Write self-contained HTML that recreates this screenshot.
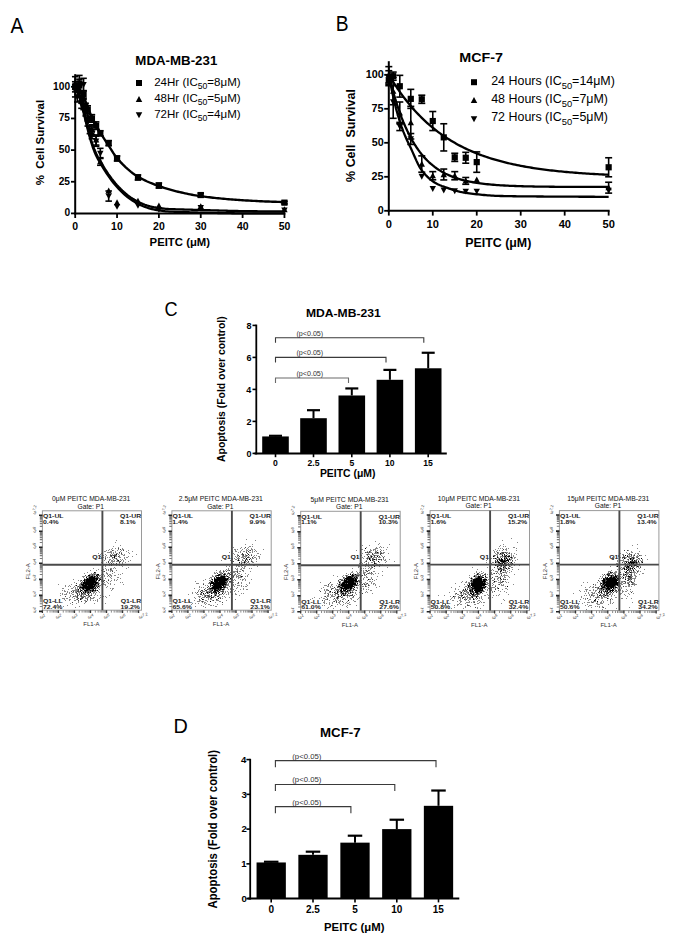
<!DOCTYPE html>
<html><head><meta charset="utf-8"><style>
html,body{margin:0;padding:0;background:#fff;}
svg{display:block;font-family:"Liberation Sans", sans-serif;}
text{white-space:pre;}
</style></head><body>
<svg width="685" height="941" viewBox="0 0 685 941">
<defs><filter id="fb" x="-5%" y="-5%" width="110%" height="110%"><feGaussianBlur stdDeviation="0.45"/></filter></defs>
<rect width="685" height="941" fill="#fff"/>
<text transform="translate(10.40,32.60) scale(0.8815,1)" font-size="22.17" font-weight="normal" fill="#000" >A</text>
<line x1="75.20" y1="74.14" x2="75.20" y2="214.40" stroke="#000" stroke-width="2" />
<line x1="74.20" y1="213.40" x2="285.45" y2="213.40" stroke="#000" stroke-width="2" />
<line x1="71.00" y1="213.40" x2="75.20" y2="213.40" stroke="#000" stroke-width="1.8" />
<text transform="translate(64.45,216.40) scale(1.0000,1)" font-size="10.20" font-weight="bold" fill="#000">0</text>
<line x1="71.00" y1="181.75" x2="75.20" y2="181.75" stroke="#000" stroke-width="1.8" />
<text transform="translate(58.63,184.75) scale(1.0000,1)" font-size="10.20" font-weight="bold" fill="#000">25</text>
<line x1="71.00" y1="150.10" x2="75.20" y2="150.10" stroke="#000" stroke-width="1.8" />
<text transform="translate(58.79,153.10) scale(1.0000,1)" font-size="10.20" font-weight="bold" fill="#000">50</text>
<line x1="71.00" y1="118.45" x2="75.20" y2="118.45" stroke="#000" stroke-width="1.8" />
<text transform="translate(58.63,121.45) scale(1.0000,1)" font-size="10.20" font-weight="bold" fill="#000">75</text>
<line x1="71.00" y1="86.80" x2="75.20" y2="86.80" stroke="#000" stroke-width="1.8" />
<text transform="translate(53.12,89.80) scale(1.0000,1)" font-size="10.20" font-weight="bold" fill="#000">100</text>
<line x1="75.20" y1="213.40" x2="75.20" y2="218.00" stroke="#000" stroke-width="1.8" />
<text transform="translate(72.29,229.60) scale(1.0500,1)" font-size="10.00" font-weight="bold" fill="#000">0</text>
<line x1="117.05" y1="213.40" x2="117.05" y2="218.00" stroke="#000" stroke-width="1.8" />
<text transform="translate(111.09,229.60) scale(1.0500,1)" font-size="10.00" font-weight="bold" fill="#000">10</text>
<line x1="158.90" y1="213.40" x2="158.90" y2="218.00" stroke="#000" stroke-width="1.8" />
<text transform="translate(153.10,229.60) scale(1.0500,1)" font-size="10.00" font-weight="bold" fill="#000">20</text>
<line x1="200.75" y1="213.40" x2="200.75" y2="218.00" stroke="#000" stroke-width="1.8" />
<text transform="translate(195.00,229.60) scale(1.0500,1)" font-size="10.00" font-weight="bold" fill="#000">30</text>
<line x1="242.60" y1="213.40" x2="242.60" y2="218.00" stroke="#000" stroke-width="1.8" />
<text transform="translate(236.90,229.60) scale(1.0500,1)" font-size="10.00" font-weight="bold" fill="#000">40</text>
<line x1="284.45" y1="213.40" x2="284.45" y2="218.00" stroke="#000" stroke-width="1.8" />
<text transform="translate(278.68,229.60) scale(1.0500,1)" font-size="10.00" font-weight="bold" fill="#000">50</text>
<text transform="translate(149.56,246.10) scale(1.1040,1)" font-size="10.29" font-weight="bold" fill="#000" >PEITC (μM)</text>
<text transform="translate(44.30,185.29) rotate(-90) scale(1.0538,1)" font-size="10.90" font-weight="bold" fill="#000">%  Cell Survival</text>
<text transform="translate(135.34,64.80) scale(1.0925,1)" font-size="12.17" font-weight="bold" fill="#000" >MDA-MB-231</text>
<rect x="136.00" y="80.00" width="6.00" height="6.00" fill="#000" />
<polygon points="139.00,96.01 142.25,101.99 135.75,101.99"/>
<polygon points="139.00,118.29 142.25,112.31 135.75,112.31"/>
<text transform="translate(154.20,85.80) scale(1.030,1)" font-size="11.2">24Hr (IC<tspan font-size="8.4" dy="3.14">50</tspan><tspan dy="-3.14">=8μM)</tspan></text>
<text transform="translate(154.20,101.60) scale(1.030,1)" font-size="11.2">48Hr (IC<tspan font-size="8.4" dy="3.14">50</tspan><tspan dy="-3.14">=5μM)</tspan></text>
<text transform="translate(154.20,117.60) scale(1.030,1)" font-size="11.2">72Hr (IC<tspan font-size="8.4" dy="3.14">50</tspan><tspan dy="-3.14">=4μM)</tspan></text>
<polyline points="75.20,86.80 76.94,88.36 78.69,90.34 80.43,92.68 82.17,95.30 83.92,98.16 85.66,101.77 87.41,106.06 89.15,110.57 90.89,114.88 92.64,118.60 94.38,122.02 96.12,125.27 97.87,128.39 99.61,131.40 101.36,134.33 103.10,137.14 104.84,139.84 106.59,142.49 108.33,145.14 110.08,147.85 111.82,150.66 113.56,153.41 115.31,155.98 117.05,158.20 118.79,160.18 120.54,162.08 122.28,163.90 124.03,165.65 125.77,167.32 127.51,168.91 129.26,170.42 131.00,171.84 132.74,173.18 134.49,174.44 136.23,175.61 137.97,176.69 139.72,177.69 141.46,178.65 143.21,179.55 144.95,180.41 146.69,181.23 148.44,182.00 150.18,182.74 151.93,183.45 153.67,184.14 155.41,184.80 157.16,185.43 158.90,186.05 160.64,186.66 162.39,187.25 164.13,187.81 165.88,188.36 167.62,188.89 169.36,189.41 171.11,189.90 172.85,190.38 174.59,190.84 176.34,191.29 178.08,191.72 179.82,192.13 181.57,192.53 183.31,192.93 185.06,193.32 186.80,193.69 188.54,194.06 190.29,194.41 192.03,194.75 193.77,195.08 195.52,195.38 197.26,195.67 199.01,195.94 200.75,196.18 202.49,196.41 204.24,196.64 205.98,196.86 207.73,197.07 209.47,197.28 211.21,197.49 212.96,197.69 214.70,197.88 216.44,198.07 218.19,198.25 219.93,198.43 221.68,198.60 223.42,198.77 225.16,198.93 226.91,199.08 228.65,199.23 230.39,199.38 232.14,199.52 233.88,199.65 235.62,199.78 237.37,199.90 239.11,200.02 240.86,200.13 242.60,200.23 244.34,200.34 246.09,200.44 247.83,200.54 249.57,200.64 251.32,200.73 253.06,200.83 254.81,200.92 256.55,201.01 258.29,201.10 260.04,201.19 261.78,201.27 263.52,201.35 265.27,201.43 267.01,201.50 268.76,201.57 270.50,201.64 272.24,201.70 273.99,201.76 275.73,201.81 277.47,201.86 279.22,201.90 280.96,201.94 282.71,201.98 284.45,202.01" fill="none" stroke="#000" stroke-width="2.4" stroke-linejoin="round"/>
<polyline points="75.20,86.45 76.94,89.54 78.69,93.92 80.43,99.33 82.17,105.51 83.92,112.23 85.66,119.21 87.41,126.21 89.15,132.98 90.89,139.27 92.64,144.82 94.38,149.53 96.12,153.54 97.87,157.01 99.61,160.13 101.36,163.05 103.10,165.93 104.84,168.75 106.59,171.46 108.33,174.05 110.08,176.51 111.82,178.85 113.56,181.08 115.31,183.19 117.05,185.19 118.79,187.08 120.54,188.87 122.28,190.56 124.03,192.15 125.77,193.65 127.51,195.05 129.26,196.37 131.00,197.60 132.74,198.75 134.49,199.82 136.23,200.81 137.97,201.73 139.72,202.57 141.46,203.35 143.21,204.07 144.95,204.72 146.69,205.31 148.44,205.85 150.18,206.34 151.93,206.77 153.67,207.16 155.41,207.50 157.16,207.81 158.90,208.07 160.64,208.30 162.39,208.50 164.13,208.67 165.88,208.82 167.62,208.94 169.36,209.04 171.11,209.13 172.85,209.20 174.59,209.26 176.34,209.31 178.08,209.36 179.82,209.40 181.57,209.45 183.31,209.50 185.06,209.54 186.80,209.59 188.54,209.64 190.29,209.69 192.03,209.74 193.77,209.79 195.52,209.85 197.26,209.90 199.01,209.95 200.75,210.00 202.49,210.05 204.24,210.11 205.98,210.16 207.73,210.21 209.47,210.26 211.21,210.32 212.96,210.37 214.70,210.42 216.44,210.47 218.19,210.52 219.93,210.57 221.68,210.61 223.42,210.66 225.16,210.71 226.91,210.75 228.65,210.80 230.39,210.84 232.14,210.88 233.88,210.92 235.62,210.96 237.37,210.99 239.11,211.03 240.86,211.06 242.60,211.09 244.34,211.12 246.09,211.15 247.83,211.18 249.57,211.20 251.32,211.22 253.06,211.24 254.81,211.25 256.55,211.27 258.29,211.28 260.04,211.29 261.78,211.29 263.52,211.30 265.27,211.30 267.01,211.30 268.76,211.30 270.50,211.30 272.24,211.30 273.99,211.30 275.73,211.30 277.47,211.30 279.22,211.30 280.96,211.30 282.71,211.30 284.45,211.30" fill="none" stroke="#000" stroke-width="2.3" stroke-linejoin="round"/>
<polyline points="75.20,86.43 76.94,90.12 78.69,94.96 80.43,100.72 82.17,107.14 83.92,114.02 85.66,121.09 87.41,128.14 89.15,134.91 90.89,141.19 92.64,146.73 94.38,151.43 96.12,155.44 97.87,158.92 99.61,162.03 101.36,164.95 103.10,167.81 104.84,170.62 106.59,173.31 108.33,175.89 110.08,178.35 111.82,180.69 113.56,182.92 115.31,185.04 117.05,187.05 118.79,188.96 120.54,190.76 122.28,192.47 124.03,194.07 125.77,195.59 127.51,197.01 129.26,198.35 131.00,199.60 132.74,200.77 134.49,201.86 136.23,202.87 137.97,203.81 139.72,204.68 141.46,205.48 143.21,206.22 144.95,206.90 146.69,207.52 148.44,208.08 150.18,208.59 151.93,209.04 153.67,209.46 155.41,209.82 157.16,210.15 158.90,210.44 160.64,210.69 162.39,210.91 164.13,211.10 165.88,211.27 167.62,211.41 169.36,211.53 171.11,211.63 172.85,211.72 174.59,211.79 176.34,211.86 178.08,211.91 179.82,211.97 181.57,212.02 183.31,212.08 185.06,212.13 186.80,212.19 188.54,212.24 190.29,212.29 192.03,212.34 193.77,212.39 195.52,212.44 197.26,212.49 199.01,212.54 200.75,212.59 202.49,212.63 204.24,212.68 205.98,212.72 207.73,212.76 209.47,212.81 211.21,212.85 212.96,212.89 214.70,212.93 216.44,212.96 218.19,213.00 219.93,213.04 221.68,213.07 223.42,213.10 225.16,213.13 226.91,213.16 228.65,213.19 230.39,213.22 232.14,213.24 233.88,213.27 235.62,213.29 237.37,213.31 239.11,213.33 240.86,213.35 242.60,213.36 244.34,213.37 246.09,213.39 247.83,213.40 249.57,213.40 251.32,213.41 253.06,213.41 254.81,213.42 256.55,213.42 258.29,213.42 260.04,213.42 261.78,213.42 263.52,213.42 265.27,213.42 267.01,213.42 268.76,213.42 270.50,213.42 272.24,213.42 273.99,213.42 275.73,213.42 277.47,213.42 279.22,213.42 280.96,213.42 282.71,213.42 284.45,213.42" fill="none" stroke="#000" stroke-width="2.3" stroke-linejoin="round"/>
<line x1="75.20" y1="86.80" x2="75.20" y2="81.74" stroke="#000" stroke-width="1.6" />
<line x1="71.95" y1="81.74" x2="78.45" y2="81.74" stroke="#000" stroke-width="1.6" />
<line x1="75.20" y1="86.80" x2="75.20" y2="91.86" stroke="#000" stroke-width="1.6" />
<line x1="71.95" y1="91.86" x2="78.45" y2="91.86" stroke="#000" stroke-width="1.6" />
<rect x="72.10" y="83.70" width="6.20" height="6.20" fill="#000" />
<line x1="79.39" y1="85.53" x2="79.39" y2="79.20" stroke="#000" stroke-width="1.6" />
<line x1="76.14" y1="79.20" x2="82.64" y2="79.20" stroke="#000" stroke-width="1.6" />
<line x1="79.39" y1="85.53" x2="79.39" y2="91.86" stroke="#000" stroke-width="1.6" />
<line x1="76.14" y1="91.86" x2="82.64" y2="91.86" stroke="#000" stroke-width="1.6" />
<rect x="76.29" y="82.43" width="6.20" height="6.20" fill="#000" />
<line x1="83.57" y1="94.40" x2="83.57" y2="90.60" stroke="#000" stroke-width="1.6" />
<line x1="80.32" y1="90.60" x2="86.82" y2="90.60" stroke="#000" stroke-width="1.6" />
<line x1="83.57" y1="94.40" x2="83.57" y2="98.19" stroke="#000" stroke-width="1.6" />
<line x1="80.32" y1="98.19" x2="86.82" y2="98.19" stroke="#000" stroke-width="1.6" />
<rect x="80.47" y="91.30" width="6.20" height="6.20" fill="#000" />
<line x1="87.75" y1="109.59" x2="87.75" y2="105.79" stroke="#000" stroke-width="1.6" />
<line x1="84.50" y1="105.79" x2="91.00" y2="105.79" stroke="#000" stroke-width="1.6" />
<line x1="87.75" y1="109.59" x2="87.75" y2="113.39" stroke="#000" stroke-width="1.6" />
<line x1="84.50" y1="113.39" x2="91.00" y2="113.39" stroke="#000" stroke-width="1.6" />
<rect x="84.66" y="106.49" width="6.20" height="6.20" fill="#000" />
<line x1="91.94" y1="118.45" x2="91.94" y2="114.65" stroke="#000" stroke-width="1.6" />
<line x1="88.69" y1="114.65" x2="95.19" y2="114.65" stroke="#000" stroke-width="1.6" />
<line x1="91.94" y1="118.45" x2="91.94" y2="122.25" stroke="#000" stroke-width="1.6" />
<line x1="88.69" y1="122.25" x2="95.19" y2="122.25" stroke="#000" stroke-width="1.6" />
<rect x="88.84" y="115.35" width="6.20" height="6.20" fill="#000" />
<line x1="96.12" y1="125.67" x2="96.12" y2="121.87" stroke="#000" stroke-width="1.6" />
<line x1="92.88" y1="121.87" x2="99.38" y2="121.87" stroke="#000" stroke-width="1.6" />
<line x1="96.12" y1="125.67" x2="96.12" y2="129.46" stroke="#000" stroke-width="1.6" />
<line x1="92.88" y1="129.46" x2="99.38" y2="129.46" stroke="#000" stroke-width="1.6" />
<rect x="93.03" y="122.57" width="6.20" height="6.20" fill="#000" />
<line x1="100.31" y1="133.26" x2="100.31" y2="130.73" stroke="#000" stroke-width="1.6" />
<line x1="97.06" y1="130.73" x2="103.56" y2="130.73" stroke="#000" stroke-width="1.6" />
<line x1="100.31" y1="133.26" x2="100.31" y2="135.79" stroke="#000" stroke-width="1.6" />
<line x1="97.06" y1="135.79" x2="103.56" y2="135.79" stroke="#000" stroke-width="1.6" />
<rect x="97.21" y="130.16" width="6.20" height="6.20" fill="#000" />
<line x1="108.68" y1="143.14" x2="108.68" y2="140.60" stroke="#000" stroke-width="1.6" />
<line x1="105.43" y1="140.60" x2="111.93" y2="140.60" stroke="#000" stroke-width="1.6" />
<line x1="108.68" y1="143.14" x2="108.68" y2="145.67" stroke="#000" stroke-width="1.6" />
<line x1="105.43" y1="145.67" x2="111.93" y2="145.67" stroke="#000" stroke-width="1.6" />
<rect x="105.58" y="140.04" width="6.20" height="6.20" fill="#000" />
<line x1="117.05" y1="158.46" x2="117.05" y2="155.92" stroke="#000" stroke-width="1.6" />
<line x1="113.80" y1="155.92" x2="120.30" y2="155.92" stroke="#000" stroke-width="1.6" />
<line x1="117.05" y1="158.46" x2="117.05" y2="160.99" stroke="#000" stroke-width="1.6" />
<line x1="113.80" y1="160.99" x2="120.30" y2="160.99" stroke="#000" stroke-width="1.6" />
<rect x="113.95" y="155.36" width="6.20" height="6.20" fill="#000" />
<line x1="137.97" y1="177.45" x2="137.97" y2="174.91" stroke="#000" stroke-width="1.6" />
<line x1="134.72" y1="174.91" x2="141.22" y2="174.91" stroke="#000" stroke-width="1.6" />
<line x1="137.97" y1="177.45" x2="137.97" y2="179.98" stroke="#000" stroke-width="1.6" />
<line x1="134.72" y1="179.98" x2="141.22" y2="179.98" stroke="#000" stroke-width="1.6" />
<rect x="134.88" y="174.35" width="6.20" height="6.20" fill="#000" />
<line x1="158.90" y1="185.55" x2="158.90" y2="183.02" stroke="#000" stroke-width="1.6" />
<line x1="155.65" y1="183.02" x2="162.15" y2="183.02" stroke="#000" stroke-width="1.6" />
<line x1="158.90" y1="185.55" x2="158.90" y2="188.08" stroke="#000" stroke-width="1.6" />
<line x1="155.65" y1="188.08" x2="162.15" y2="188.08" stroke="#000" stroke-width="1.6" />
<rect x="155.80" y="182.45" width="6.20" height="6.20" fill="#000" />
<line x1="200.75" y1="195.04" x2="200.75" y2="193.14" stroke="#000" stroke-width="1.6" />
<line x1="197.50" y1="193.14" x2="204.00" y2="193.14" stroke="#000" stroke-width="1.6" />
<line x1="200.75" y1="195.04" x2="200.75" y2="196.94" stroke="#000" stroke-width="1.6" />
<line x1="197.50" y1="196.94" x2="204.00" y2="196.94" stroke="#000" stroke-width="1.6" />
<rect x="197.65" y="191.94" width="6.20" height="6.20" fill="#000" />
<line x1="284.45" y1="202.64" x2="284.45" y2="201.37" stroke="#000" stroke-width="1.6" />
<line x1="281.20" y1="201.37" x2="287.70" y2="201.37" stroke="#000" stroke-width="1.6" />
<line x1="284.45" y1="202.64" x2="284.45" y2="203.91" stroke="#000" stroke-width="1.6" />
<line x1="281.20" y1="203.91" x2="287.70" y2="203.91" stroke="#000" stroke-width="1.6" />
<rect x="281.35" y="199.54" width="6.20" height="6.20" fill="#000" />
<line x1="75.20" y1="83.00" x2="75.20" y2="76.67" stroke="#000" stroke-width="1.6" />
<line x1="71.95" y1="76.67" x2="78.45" y2="76.67" stroke="#000" stroke-width="1.6" />
<line x1="75.20" y1="83.00" x2="75.20" y2="89.33" stroke="#000" stroke-width="1.6" />
<line x1="71.95" y1="89.33" x2="78.45" y2="89.33" stroke="#000" stroke-width="1.6" />
<polygon points="75.20,79.76 78.40,85.65 72.00,85.65"/>
<line x1="79.39" y1="89.33" x2="79.39" y2="81.74" stroke="#000" stroke-width="1.6" />
<line x1="76.14" y1="81.74" x2="82.64" y2="81.74" stroke="#000" stroke-width="1.6" />
<line x1="79.39" y1="89.33" x2="79.39" y2="96.93" stroke="#000" stroke-width="1.6" />
<line x1="76.14" y1="96.93" x2="82.64" y2="96.93" stroke="#000" stroke-width="1.6" />
<polygon points="79.39,86.09 82.59,91.98 76.19,91.98"/>
<line x1="81.48" y1="99.46" x2="81.48" y2="95.66" stroke="#000" stroke-width="1.6" />
<line x1="78.23" y1="95.66" x2="84.73" y2="95.66" stroke="#000" stroke-width="1.6" />
<line x1="81.48" y1="99.46" x2="81.48" y2="103.26" stroke="#000" stroke-width="1.6" />
<line x1="78.23" y1="103.26" x2="84.73" y2="103.26" stroke="#000" stroke-width="1.6" />
<polygon points="81.48,96.22 84.68,102.11 78.28,102.11"/>
<line x1="83.57" y1="104.52" x2="83.57" y2="99.46" stroke="#000" stroke-width="1.6" />
<line x1="80.32" y1="99.46" x2="86.82" y2="99.46" stroke="#000" stroke-width="1.6" />
<line x1="83.57" y1="104.52" x2="83.57" y2="109.59" stroke="#000" stroke-width="1.6" />
<line x1="80.32" y1="109.59" x2="86.82" y2="109.59" stroke="#000" stroke-width="1.6" />
<polygon points="83.57,101.29 86.77,107.17 80.37,107.17"/>
<line x1="85.66" y1="112.12" x2="85.66" y2="108.32" stroke="#000" stroke-width="1.6" />
<line x1="82.41" y1="108.32" x2="88.91" y2="108.32" stroke="#000" stroke-width="1.6" />
<line x1="85.66" y1="112.12" x2="85.66" y2="115.92" stroke="#000" stroke-width="1.6" />
<line x1="82.41" y1="115.92" x2="88.91" y2="115.92" stroke="#000" stroke-width="1.6" />
<polygon points="85.66,108.88 88.86,114.77 82.46,114.77"/>
<line x1="87.75" y1="117.18" x2="87.75" y2="113.39" stroke="#000" stroke-width="1.6" />
<line x1="84.50" y1="113.39" x2="91.00" y2="113.39" stroke="#000" stroke-width="1.6" />
<line x1="87.75" y1="117.18" x2="87.75" y2="120.98" stroke="#000" stroke-width="1.6" />
<line x1="84.50" y1="120.98" x2="91.00" y2="120.98" stroke="#000" stroke-width="1.6" />
<polygon points="87.75,113.95 90.95,119.83 84.55,119.83"/>
<line x1="91.94" y1="129.84" x2="91.94" y2="124.78" stroke="#000" stroke-width="1.6" />
<line x1="88.69" y1="124.78" x2="95.19" y2="124.78" stroke="#000" stroke-width="1.6" />
<line x1="91.94" y1="129.84" x2="91.94" y2="134.91" stroke="#000" stroke-width="1.6" />
<line x1="88.69" y1="134.91" x2="95.19" y2="134.91" stroke="#000" stroke-width="1.6" />
<polygon points="91.94,126.61 95.14,132.49 88.74,132.49"/>
<line x1="96.12" y1="139.97" x2="96.12" y2="134.91" stroke="#000" stroke-width="1.6" />
<line x1="92.88" y1="134.91" x2="99.38" y2="134.91" stroke="#000" stroke-width="1.6" />
<line x1="96.12" y1="139.97" x2="96.12" y2="145.04" stroke="#000" stroke-width="1.6" />
<line x1="92.88" y1="145.04" x2="99.38" y2="145.04" stroke="#000" stroke-width="1.6" />
<polygon points="96.12,136.73 99.33,142.62 92.92,142.62"/>
<line x1="100.31" y1="161.49" x2="100.31" y2="157.70" stroke="#000" stroke-width="1.6" />
<line x1="97.06" y1="157.70" x2="103.56" y2="157.70" stroke="#000" stroke-width="1.6" />
<line x1="100.31" y1="161.49" x2="100.31" y2="165.29" stroke="#000" stroke-width="1.6" />
<line x1="97.06" y1="165.29" x2="103.56" y2="165.29" stroke="#000" stroke-width="1.6" />
<polygon points="100.31,158.26 103.51,164.14 97.11,164.14"/>
<polygon points="108.68,187.50 111.88,193.39 105.48,193.39"/>
<polygon points="117.05,199.27 120.25,205.16 113.85,205.16"/>
<polygon points="137.97,197.75 141.17,203.64 134.78,203.64"/>
<polygon points="158.90,202.57 162.10,208.45 155.70,208.45"/>
<polygon points="200.75,203.20 203.95,209.09 197.55,209.09"/>
<polygon points="284.45,206.36 287.65,212.25 281.25,212.25"/>
<line x1="75.20" y1="90.60" x2="75.20" y2="84.27" stroke="#000" stroke-width="1.6" />
<line x1="71.95" y1="84.27" x2="78.45" y2="84.27" stroke="#000" stroke-width="1.6" />
<line x1="75.20" y1="90.60" x2="75.20" y2="96.93" stroke="#000" stroke-width="1.6" />
<line x1="71.95" y1="96.93" x2="78.45" y2="96.93" stroke="#000" stroke-width="1.6" />
<polygon points="75.20,93.84 78.40,87.95 72.00,87.95"/>
<line x1="77.29" y1="96.93" x2="77.29" y2="91.86" stroke="#000" stroke-width="1.6" />
<line x1="74.04" y1="91.86" x2="80.54" y2="91.86" stroke="#000" stroke-width="1.6" />
<line x1="77.29" y1="96.93" x2="77.29" y2="101.99" stroke="#000" stroke-width="1.6" />
<line x1="74.04" y1="101.99" x2="80.54" y2="101.99" stroke="#000" stroke-width="1.6" />
<polygon points="77.29,100.17 80.49,94.28 74.09,94.28"/>
<line x1="79.39" y1="83.00" x2="79.39" y2="75.41" stroke="#000" stroke-width="1.6" />
<line x1="76.14" y1="75.41" x2="82.64" y2="75.41" stroke="#000" stroke-width="1.6" />
<line x1="79.39" y1="83.00" x2="79.39" y2="90.60" stroke="#000" stroke-width="1.6" />
<line x1="76.14" y1="90.60" x2="82.64" y2="90.60" stroke="#000" stroke-width="1.6" />
<polygon points="79.39,86.24 82.59,80.35 76.19,80.35"/>
<line x1="81.48" y1="104.52" x2="81.48" y2="100.73" stroke="#000" stroke-width="1.6" />
<line x1="78.23" y1="100.73" x2="84.73" y2="100.73" stroke="#000" stroke-width="1.6" />
<line x1="81.48" y1="104.52" x2="81.48" y2="108.32" stroke="#000" stroke-width="1.6" />
<line x1="78.23" y1="108.32" x2="84.73" y2="108.32" stroke="#000" stroke-width="1.6" />
<polygon points="81.48,107.76 84.68,101.87 78.28,101.87"/>
<line x1="83.57" y1="84.65" x2="83.57" y2="78.32" stroke="#000" stroke-width="1.6" />
<line x1="80.32" y1="78.32" x2="86.82" y2="78.32" stroke="#000" stroke-width="1.6" />
<line x1="83.57" y1="84.65" x2="83.57" y2="90.98" stroke="#000" stroke-width="1.6" />
<line x1="80.32" y1="90.98" x2="86.82" y2="90.98" stroke="#000" stroke-width="1.6" />
<polygon points="83.57,87.89 86.77,82.00 80.37,82.00"/>
<line x1="85.66" y1="107.06" x2="85.66" y2="103.26" stroke="#000" stroke-width="1.6" />
<line x1="82.41" y1="103.26" x2="88.91" y2="103.26" stroke="#000" stroke-width="1.6" />
<line x1="85.66" y1="107.06" x2="85.66" y2="110.85" stroke="#000" stroke-width="1.6" />
<line x1="82.41" y1="110.85" x2="88.91" y2="110.85" stroke="#000" stroke-width="1.6" />
<polygon points="85.66,110.29 88.86,104.41 82.46,104.41"/>
<line x1="87.75" y1="122.25" x2="87.75" y2="118.45" stroke="#000" stroke-width="1.6" />
<line x1="84.50" y1="118.45" x2="91.00" y2="118.45" stroke="#000" stroke-width="1.6" />
<line x1="87.75" y1="122.25" x2="87.75" y2="126.05" stroke="#000" stroke-width="1.6" />
<line x1="84.50" y1="126.05" x2="91.00" y2="126.05" stroke="#000" stroke-width="1.6" />
<polygon points="87.75,125.49 90.95,119.60 84.55,119.60"/>
<line x1="89.85" y1="129.84" x2="89.85" y2="126.05" stroke="#000" stroke-width="1.6" />
<line x1="86.60" y1="126.05" x2="93.10" y2="126.05" stroke="#000" stroke-width="1.6" />
<line x1="89.85" y1="129.84" x2="89.85" y2="133.64" stroke="#000" stroke-width="1.6" />
<line x1="86.60" y1="133.64" x2="93.10" y2="133.64" stroke="#000" stroke-width="1.6" />
<polygon points="89.85,133.08 93.05,127.19 86.65,127.19"/>
<line x1="91.94" y1="134.91" x2="91.94" y2="131.11" stroke="#000" stroke-width="1.6" />
<line x1="88.69" y1="131.11" x2="95.19" y2="131.11" stroke="#000" stroke-width="1.6" />
<line x1="91.94" y1="134.91" x2="91.94" y2="138.71" stroke="#000" stroke-width="1.6" />
<line x1="88.69" y1="138.71" x2="95.19" y2="138.71" stroke="#000" stroke-width="1.6" />
<polygon points="91.94,138.15 95.14,132.26 88.74,132.26"/>
<line x1="96.12" y1="141.24" x2="96.12" y2="136.17" stroke="#000" stroke-width="1.6" />
<line x1="92.88" y1="136.17" x2="99.38" y2="136.17" stroke="#000" stroke-width="1.6" />
<line x1="96.12" y1="141.24" x2="96.12" y2="146.30" stroke="#000" stroke-width="1.6" />
<line x1="92.88" y1="146.30" x2="99.38" y2="146.30" stroke="#000" stroke-width="1.6" />
<polygon points="96.12,144.48 99.33,138.59 92.92,138.59"/>
<line x1="100.31" y1="153.39" x2="100.31" y2="148.33" stroke="#000" stroke-width="1.6" />
<line x1="97.06" y1="148.33" x2="103.56" y2="148.33" stroke="#000" stroke-width="1.6" />
<line x1="100.31" y1="153.39" x2="100.31" y2="158.46" stroke="#000" stroke-width="1.6" />
<line x1="97.06" y1="158.46" x2="103.56" y2="158.46" stroke="#000" stroke-width="1.6" />
<polygon points="100.31,156.63 103.51,150.74 97.11,150.74"/>
<line x1="108.68" y1="196.06" x2="108.68" y2="190.99" stroke="#000" stroke-width="1.6" />
<line x1="105.43" y1="190.99" x2="111.93" y2="190.99" stroke="#000" stroke-width="1.6" />
<line x1="108.68" y1="196.06" x2="108.68" y2="201.12" stroke="#000" stroke-width="1.6" />
<line x1="105.43" y1="201.12" x2="111.93" y2="201.12" stroke="#000" stroke-width="1.6" />
<polygon points="108.68,199.29 111.88,193.41 105.48,193.41"/>
<polygon points="117.05,209.80 120.25,203.91 113.85,203.91"/>
<polygon points="137.97,208.79 141.17,202.90 134.78,202.90"/>
<polygon points="158.90,212.84 162.10,206.95 155.70,206.95"/>
<polygon points="200.75,210.94 203.95,205.05 197.55,205.05"/>
<polygon points="284.45,213.47 287.65,207.59 281.25,207.59"/>
<text transform="translate(335.76,31.00) scale(0.9099,1)" font-size="21.16" font-weight="normal" fill="#000" >B</text>
<line x1="388.80" y1="61.20" x2="388.80" y2="211.80" stroke="#000" stroke-width="2" />
<line x1="387.80" y1="210.80" x2="609.65" y2="210.80" stroke="#000" stroke-width="2" />
<line x1="384.20" y1="210.80" x2="388.80" y2="210.80" stroke="#000" stroke-width="1.8" />
<text transform="translate(377.64,214.40) scale(1.0800,1)" font-size="10.00" font-weight="bold" fill="#000">0</text>
<line x1="384.20" y1="176.80" x2="388.80" y2="176.80" stroke="#000" stroke-width="1.8" />
<text transform="translate(371.48,180.40) scale(1.0800,1)" font-size="10.00" font-weight="bold" fill="#000">25</text>
<line x1="384.20" y1="142.80" x2="388.80" y2="142.80" stroke="#000" stroke-width="1.8" />
<text transform="translate(371.64,146.40) scale(1.0800,1)" font-size="10.00" font-weight="bold" fill="#000">50</text>
<line x1="384.20" y1="108.80" x2="388.80" y2="108.80" stroke="#000" stroke-width="1.8" />
<text transform="translate(371.48,112.40) scale(1.0800,1)" font-size="10.00" font-weight="bold" fill="#000">75</text>
<line x1="384.20" y1="74.80" x2="388.80" y2="74.80" stroke="#000" stroke-width="1.8" />
<text transform="translate(365.65,78.40) scale(1.0800,1)" font-size="10.00" font-weight="bold" fill="#000">100</text>
<line x1="388.80" y1="210.80" x2="388.80" y2="215.60" stroke="#000" stroke-width="1.8" />
<text transform="translate(385.71,228.10) scale(1.0800,1)" font-size="10.30" font-weight="bold" fill="#000">0</text>
<line x1="432.77" y1="210.80" x2="432.77" y2="215.60" stroke="#000" stroke-width="1.8" />
<text transform="translate(426.46,228.10) scale(1.0800,1)" font-size="10.30" font-weight="bold" fill="#000">10</text>
<line x1="476.74" y1="210.80" x2="476.74" y2="215.60" stroke="#000" stroke-width="1.8" />
<text transform="translate(470.59,228.10) scale(1.0800,1)" font-size="10.30" font-weight="bold" fill="#000">20</text>
<line x1="520.71" y1="210.80" x2="520.71" y2="215.60" stroke="#000" stroke-width="1.8" />
<text transform="translate(514.62,228.10) scale(1.0800,1)" font-size="10.30" font-weight="bold" fill="#000">30</text>
<line x1="564.68" y1="210.80" x2="564.68" y2="215.60" stroke="#000" stroke-width="1.8" />
<text transform="translate(558.65,228.10) scale(1.0800,1)" font-size="10.30" font-weight="bold" fill="#000">40</text>
<line x1="608.65" y1="210.80" x2="608.65" y2="215.60" stroke="#000" stroke-width="1.8" />
<text transform="translate(602.53,228.10) scale(1.0800,1)" font-size="10.30" font-weight="bold" fill="#000">50</text>
<text transform="translate(465.19,246.50) scale(0.9624,1)" font-size="12.90" font-weight="bold" fill="#000" >PEITC (μM)</text>
<text transform="translate(355.30,181.91) rotate(-90) scale(1.0267,1)" font-size="12.14" font-weight="bold" fill="#000">% Cell  Survival</text>
<text transform="translate(459.27,61.80) scale(1.0747,1)" font-size="13.33" font-weight="bold" fill="#000" >MCF-7</text>
<rect x="471.00" y="79.20" width="6.00" height="6.00" fill="#000" />
<polygon points="474.00,96.91 477.25,102.89 470.75,102.89"/>
<polygon points="474.00,122.29 477.25,116.31 470.75,116.31"/>
<text transform="translate(491.20,85.40) scale(1.020,1)" font-size="12.2">24 Hours (IC<tspan font-size="9.2" dy="3.42">50</tspan><tspan dy="-3.42">=14μM)</tspan></text>
<text transform="translate(491.20,103.30) scale(1.020,1)" font-size="12.2">48 Hours (IC<tspan font-size="9.2" dy="3.42">50</tspan><tspan dy="-3.42">=7μM)</tspan></text>
<text transform="translate(491.20,121.30) scale(1.020,1)" font-size="12.2">72 Hours (IC<tspan font-size="9.2" dy="3.42">50</tspan><tspan dy="-3.42">=5μM)</tspan></text>
<polyline points="388.80,74.80 390.63,77.86 392.46,80.82 394.30,83.70 396.13,86.49 397.96,89.19 399.79,91.82 401.62,94.37 403.46,96.84 405.29,99.24 407.12,101.57 408.95,103.83 410.79,106.02 412.62,108.15 414.45,110.21 416.28,112.21 418.11,114.15 419.95,116.04 421.78,117.87 423.61,119.64 425.44,121.36 427.27,123.03 429.11,124.65 430.94,126.22 432.77,127.75 434.60,129.23 436.43,130.67 438.27,132.06 440.10,133.41 441.93,134.72 443.76,135.99 445.59,137.23 447.43,138.43 449.26,139.59 451.09,140.72 452.92,141.81 454.75,142.87 456.59,143.90 458.42,144.90 460.25,145.87 462.08,146.81 463.92,147.72 465.75,148.61 467.58,149.47 469.41,150.30 471.24,151.11 473.08,151.89 474.91,152.66 476.74,153.39 478.57,154.11 480.40,154.81 482.24,155.48 484.07,156.14 485.90,156.77 487.73,157.39 489.56,157.98 491.40,158.57 493.23,159.13 495.06,159.67 496.89,160.20 498.73,160.72 500.56,161.22 502.39,161.70 504.22,162.17 506.05,162.63 507.89,163.07 509.72,163.50 511.55,163.91 513.38,164.32 515.21,164.71 517.05,165.09 518.88,165.46 520.71,165.81 522.54,166.16 524.37,166.50 526.21,166.83 528.04,167.14 529.87,167.45 531.70,167.75 533.53,168.04 535.37,168.32 537.20,168.59 539.03,168.86 540.86,169.11 542.70,169.36 544.53,169.60 546.36,169.84 548.19,170.07 550.02,170.29 551.86,170.50 553.69,170.71 555.52,170.91 557.35,171.10 559.18,171.29 561.02,171.48 562.85,171.66 564.68,171.83 566.51,172.00 568.34,172.16 570.18,172.32 572.01,172.47 573.84,172.62 575.67,172.77 577.50,172.91 579.34,173.04 581.17,173.18 583.00,173.30 584.83,173.43 586.66,173.55 588.50,173.67 590.33,173.78 592.16,173.89 593.99,174.00 595.83,174.10 597.66,174.20 599.49,174.30 601.32,174.39 603.15,174.48 604.99,174.57 606.82,174.66 608.65,174.74" fill="none" stroke="#000" stroke-width="2.3" stroke-linejoin="round"/>
<polyline points="388.80,74.80 390.63,82.25 392.46,89.21 394.30,95.71 396.13,101.78 397.96,107.44 399.79,112.72 401.62,117.66 403.46,122.27 405.29,126.57 407.12,130.58 408.95,134.33 410.79,137.83 412.62,141.10 414.45,144.15 416.28,146.99 418.11,149.65 419.95,152.13 421.78,154.45 423.61,156.61 425.44,158.63 427.27,160.52 429.11,162.28 430.94,163.92 432.77,165.45 434.60,166.88 436.43,168.22 438.27,169.47 440.10,170.63 441.93,171.72 443.76,172.74 445.59,173.68 447.43,174.57 449.26,175.39 451.09,176.16 452.92,176.88 454.75,177.56 456.59,178.18 458.42,178.77 460.25,179.32 462.08,179.83 463.92,180.30 465.75,180.75 467.58,181.16 469.41,181.55 471.24,181.91 473.08,182.25 474.91,182.57 476.74,182.86 478.57,183.14 480.40,183.39 482.24,183.63 484.07,183.86 485.90,184.07 487.73,184.26 489.56,184.44 491.40,184.61 493.23,184.77 495.06,184.92 496.89,185.06 498.73,185.19 500.56,185.31 502.39,185.42 504.22,185.52 506.05,185.62 507.89,185.71 509.72,185.80 511.55,185.88 513.38,185.95 515.21,186.02 517.05,186.09 518.88,186.15 520.71,186.21 522.54,186.26 524.37,186.31 526.21,186.35 528.04,186.40 529.87,186.44 531.70,186.47 533.53,186.51 535.37,186.54 537.20,186.57 539.03,186.60 540.86,186.63 542.70,186.65 544.53,186.67 546.36,186.70 548.19,186.72 550.02,186.74 551.86,186.75 553.69,186.77 555.52,186.78 557.35,186.80 559.18,186.81 561.02,186.82 562.85,186.84 564.68,186.85 566.51,186.86 568.34,186.87 570.18,186.88 572.01,186.88 573.84,186.89 575.67,186.90 577.50,186.91 579.34,186.91 581.17,186.92 583.00,186.92 584.83,186.93 586.66,186.93 588.50,186.94 590.33,186.94 592.16,186.95 593.99,186.95 595.83,186.95 597.66,186.96 599.49,186.96 601.32,186.96 603.15,186.96 604.99,186.97 606.82,186.97 608.65,186.97" fill="none" stroke="#000" stroke-width="2.3" stroke-linejoin="round"/>
<polyline points="388.80,74.80 390.63,84.38 392.46,93.24 394.30,101.36 396.13,108.86 397.96,115.49 399.79,121.42 401.62,126.85 403.46,131.82 405.29,136.34 407.12,140.42 408.95,144.25 410.79,148.08 412.62,152.11 414.45,156.27 416.28,160.37 418.11,164.21 419.95,167.62 421.78,170.40 423.61,172.64 425.44,174.70 427.27,176.59 429.11,178.30 430.94,179.85 432.77,181.23 434.60,182.46 436.43,183.53 438.27,184.46 440.10,185.27 441.93,186.00 443.76,186.67 445.59,187.32 447.43,187.96 449.26,188.59 451.09,189.21 452.92,189.81 454.75,190.38 456.59,190.91 458.42,191.39 460.25,191.82 462.08,192.19 463.92,192.50 465.75,192.77 467.58,193.04 469.41,193.30 471.24,193.55 473.08,193.79 474.91,194.02 476.74,194.24 478.57,194.45 480.40,194.65 482.24,194.84 484.07,195.01 485.90,195.18 487.73,195.33 489.56,195.46 491.40,195.59 493.23,195.70 495.06,195.79 496.89,195.87 498.73,195.93 500.56,195.98 502.39,196.02 504.22,196.06 506.05,196.10 507.89,196.13 509.72,196.17 511.55,196.20 513.38,196.23 515.21,196.25 517.05,196.28 518.88,196.30 520.71,196.33 522.54,196.35 524.37,196.37 526.21,196.39 528.04,196.41 529.87,196.42 531.70,196.44 533.53,196.45 535.37,196.47 537.20,196.48 539.03,196.50 540.86,196.51 542.70,196.52 544.53,196.53 546.36,196.54 548.19,196.56 550.02,196.57 551.86,196.58 553.69,196.59 555.52,196.60 557.35,196.61 559.18,196.62 561.02,196.63 562.85,196.64 564.68,196.65 566.51,196.66 568.34,196.67 570.18,196.68 572.01,196.69 573.84,196.70 575.67,196.71 577.50,196.72 579.34,196.73 581.17,196.73 583.00,196.74 584.83,196.75 586.66,196.75 588.50,196.76 590.33,196.76 592.16,196.77 593.99,196.77 595.83,196.78 597.66,196.78 599.49,196.78 601.32,196.79 603.15,196.79 604.99,196.79 606.82,196.79 608.65,196.79" fill="none" stroke="#000" stroke-width="2.3" stroke-linejoin="round"/>
<line x1="388.80" y1="80.24" x2="388.80" y2="74.80" stroke="#000" stroke-width="1.6" />
<line x1="385.30" y1="74.80" x2="392.30" y2="74.80" stroke="#000" stroke-width="1.6" />
<line x1="388.80" y1="80.24" x2="388.80" y2="85.68" stroke="#000" stroke-width="1.6" />
<line x1="385.30" y1="85.68" x2="392.30" y2="85.68" stroke="#000" stroke-width="1.6" />
<rect x="385.70" y="77.14" width="6.20" height="6.20" fill="#000" />
<line x1="393.20" y1="76.16" x2="393.20" y2="72.08" stroke="#000" stroke-width="1.6" />
<line x1="389.70" y1="72.08" x2="396.70" y2="72.08" stroke="#000" stroke-width="1.6" />
<line x1="393.20" y1="76.16" x2="393.20" y2="80.24" stroke="#000" stroke-width="1.6" />
<line x1="389.70" y1="80.24" x2="396.70" y2="80.24" stroke="#000" stroke-width="1.6" />
<rect x="390.10" y="73.06" width="6.20" height="6.20" fill="#000" />
<line x1="399.79" y1="86.22" x2="399.79" y2="75.34" stroke="#000" stroke-width="1.6" />
<line x1="396.29" y1="75.34" x2="403.29" y2="75.34" stroke="#000" stroke-width="1.6" />
<line x1="399.79" y1="86.22" x2="399.79" y2="97.10" stroke="#000" stroke-width="1.6" />
<line x1="396.29" y1="97.10" x2="403.29" y2="97.10" stroke="#000" stroke-width="1.6" />
<rect x="396.69" y="83.12" width="6.20" height="6.20" fill="#000" />
<line x1="410.79" y1="98.87" x2="410.79" y2="89.35" stroke="#000" stroke-width="1.6" />
<line x1="407.29" y1="89.35" x2="414.29" y2="89.35" stroke="#000" stroke-width="1.6" />
<line x1="410.79" y1="98.87" x2="410.79" y2="108.39" stroke="#000" stroke-width="1.6" />
<line x1="407.29" y1="108.39" x2="414.29" y2="108.39" stroke="#000" stroke-width="1.6" />
<rect x="407.69" y="95.77" width="6.20" height="6.20" fill="#000" />
<line x1="421.78" y1="99.28" x2="421.78" y2="95.20" stroke="#000" stroke-width="1.6" />
<line x1="418.28" y1="95.20" x2="425.28" y2="95.20" stroke="#000" stroke-width="1.6" />
<line x1="421.78" y1="99.28" x2="421.78" y2="103.36" stroke="#000" stroke-width="1.6" />
<line x1="418.28" y1="103.36" x2="425.28" y2="103.36" stroke="#000" stroke-width="1.6" />
<rect x="418.68" y="96.18" width="6.20" height="6.20" fill="#000" />
<line x1="432.77" y1="121.04" x2="432.77" y2="111.52" stroke="#000" stroke-width="1.6" />
<line x1="429.27" y1="111.52" x2="436.27" y2="111.52" stroke="#000" stroke-width="1.6" />
<line x1="432.77" y1="121.04" x2="432.77" y2="130.56" stroke="#000" stroke-width="1.6" />
<line x1="429.27" y1="130.56" x2="436.27" y2="130.56" stroke="#000" stroke-width="1.6" />
<rect x="429.67" y="117.94" width="6.20" height="6.20" fill="#000" />
<line x1="443.76" y1="137.36" x2="443.76" y2="123.76" stroke="#000" stroke-width="1.6" />
<line x1="440.26" y1="123.76" x2="447.26" y2="123.76" stroke="#000" stroke-width="1.6" />
<line x1="443.76" y1="137.36" x2="443.76" y2="150.96" stroke="#000" stroke-width="1.6" />
<line x1="440.26" y1="150.96" x2="447.26" y2="150.96" stroke="#000" stroke-width="1.6" />
<rect x="440.66" y="134.26" width="6.20" height="6.20" fill="#000" />
<line x1="454.75" y1="157.35" x2="454.75" y2="153.27" stroke="#000" stroke-width="1.6" />
<line x1="451.25" y1="153.27" x2="458.25" y2="153.27" stroke="#000" stroke-width="1.6" />
<line x1="454.75" y1="157.35" x2="454.75" y2="161.43" stroke="#000" stroke-width="1.6" />
<line x1="451.25" y1="161.43" x2="458.25" y2="161.43" stroke="#000" stroke-width="1.6" />
<rect x="451.65" y="154.25" width="6.20" height="6.20" fill="#000" />
<line x1="465.75" y1="157.76" x2="465.75" y2="152.32" stroke="#000" stroke-width="1.6" />
<line x1="462.25" y1="152.32" x2="469.25" y2="152.32" stroke="#000" stroke-width="1.6" />
<line x1="465.75" y1="157.76" x2="465.75" y2="163.20" stroke="#000" stroke-width="1.6" />
<line x1="462.25" y1="163.20" x2="469.25" y2="163.20" stroke="#000" stroke-width="1.6" />
<rect x="462.65" y="154.66" width="6.20" height="6.20" fill="#000" />
<line x1="476.74" y1="162.11" x2="476.74" y2="151.91" stroke="#000" stroke-width="1.6" />
<line x1="473.24" y1="151.91" x2="480.24" y2="151.91" stroke="#000" stroke-width="1.6" />
<line x1="476.74" y1="162.11" x2="476.74" y2="172.31" stroke="#000" stroke-width="1.6" />
<line x1="473.24" y1="172.31" x2="480.24" y2="172.31" stroke="#000" stroke-width="1.6" />
<rect x="473.64" y="159.01" width="6.20" height="6.20" fill="#000" />
<line x1="608.65" y1="167.28" x2="608.65" y2="157.76" stroke="#000" stroke-width="1.6" />
<line x1="605.15" y1="157.76" x2="612.15" y2="157.76" stroke="#000" stroke-width="1.6" />
<line x1="608.65" y1="167.28" x2="608.65" y2="176.80" stroke="#000" stroke-width="1.6" />
<line x1="605.15" y1="176.80" x2="612.15" y2="176.80" stroke="#000" stroke-width="1.6" />
<rect x="605.55" y="164.18" width="6.20" height="6.20" fill="#000" />
<line x1="388.80" y1="74.80" x2="388.80" y2="66.64" stroke="#000" stroke-width="1.6" />
<line x1="385.30" y1="66.64" x2="392.30" y2="66.64" stroke="#000" stroke-width="1.6" />
<line x1="388.80" y1="74.80" x2="388.80" y2="82.96" stroke="#000" stroke-width="1.6" />
<line x1="385.30" y1="82.96" x2="392.30" y2="82.96" stroke="#000" stroke-width="1.6" />
<polygon points="388.80,71.56 392.00,77.45 385.60,77.45"/>
<line x1="393.20" y1="91.12" x2="393.20" y2="77.52" stroke="#000" stroke-width="1.6" />
<line x1="389.70" y1="77.52" x2="396.70" y2="77.52" stroke="#000" stroke-width="1.6" />
<line x1="393.20" y1="91.12" x2="393.20" y2="104.72" stroke="#000" stroke-width="1.6" />
<line x1="389.70" y1="104.72" x2="396.70" y2="104.72" stroke="#000" stroke-width="1.6" />
<polygon points="393.20,87.88 396.40,93.77 390.00,93.77"/>
<line x1="399.79" y1="112.88" x2="399.79" y2="102.00" stroke="#000" stroke-width="1.6" />
<line x1="396.29" y1="102.00" x2="403.29" y2="102.00" stroke="#000" stroke-width="1.6" />
<line x1="399.79" y1="112.88" x2="399.79" y2="123.76" stroke="#000" stroke-width="1.6" />
<line x1="396.29" y1="123.76" x2="403.29" y2="123.76" stroke="#000" stroke-width="1.6" />
<polygon points="399.79,109.64 402.99,115.53 396.59,115.53"/>
<line x1="410.79" y1="122.67" x2="410.79" y2="106.35" stroke="#000" stroke-width="1.6" />
<line x1="407.29" y1="106.35" x2="414.29" y2="106.35" stroke="#000" stroke-width="1.6" />
<line x1="410.79" y1="122.67" x2="410.79" y2="138.99" stroke="#000" stroke-width="1.6" />
<line x1="407.29" y1="138.99" x2="414.29" y2="138.99" stroke="#000" stroke-width="1.6" />
<polygon points="410.79,119.43 413.99,125.32 407.59,125.32"/>
<line x1="421.78" y1="164.02" x2="421.78" y2="155.86" stroke="#000" stroke-width="1.6" />
<line x1="418.28" y1="155.86" x2="425.28" y2="155.86" stroke="#000" stroke-width="1.6" />
<line x1="421.78" y1="164.02" x2="421.78" y2="172.18" stroke="#000" stroke-width="1.6" />
<line x1="418.28" y1="172.18" x2="425.28" y2="172.18" stroke="#000" stroke-width="1.6" />
<polygon points="421.78,160.78 424.98,166.67 418.58,166.67"/>
<line x1="432.77" y1="175.71" x2="432.77" y2="171.63" stroke="#000" stroke-width="1.6" />
<line x1="429.27" y1="171.63" x2="436.27" y2="171.63" stroke="#000" stroke-width="1.6" />
<line x1="432.77" y1="175.71" x2="432.77" y2="179.79" stroke="#000" stroke-width="1.6" />
<line x1="429.27" y1="179.79" x2="436.27" y2="179.79" stroke="#000" stroke-width="1.6" />
<polygon points="432.77,172.47 435.97,178.36 429.57,178.36"/>
<line x1="443.76" y1="174.49" x2="443.76" y2="169.05" stroke="#000" stroke-width="1.6" />
<line x1="440.26" y1="169.05" x2="447.26" y2="169.05" stroke="#000" stroke-width="1.6" />
<line x1="443.76" y1="174.49" x2="443.76" y2="179.93" stroke="#000" stroke-width="1.6" />
<line x1="440.26" y1="179.93" x2="447.26" y2="179.93" stroke="#000" stroke-width="1.6" />
<polygon points="443.76,171.25 446.96,177.14 440.56,177.14"/>
<line x1="454.75" y1="175.71" x2="454.75" y2="171.63" stroke="#000" stroke-width="1.6" />
<line x1="451.25" y1="171.63" x2="458.25" y2="171.63" stroke="#000" stroke-width="1.6" />
<line x1="454.75" y1="175.71" x2="454.75" y2="179.79" stroke="#000" stroke-width="1.6" />
<line x1="451.25" y1="179.79" x2="458.25" y2="179.79" stroke="#000" stroke-width="1.6" />
<polygon points="454.75,172.47 457.95,178.36 451.56,178.36"/>
<line x1="465.75" y1="180.88" x2="465.75" y2="177.48" stroke="#000" stroke-width="1.6" />
<line x1="462.25" y1="177.48" x2="469.25" y2="177.48" stroke="#000" stroke-width="1.6" />
<line x1="465.75" y1="180.88" x2="465.75" y2="184.28" stroke="#000" stroke-width="1.6" />
<line x1="462.25" y1="184.28" x2="469.25" y2="184.28" stroke="#000" stroke-width="1.6" />
<polygon points="465.75,177.64 468.95,183.53 462.55,183.53"/>
<polygon points="476.74,176.55 479.94,182.44 473.54,182.44"/>
<line x1="608.65" y1="187.68" x2="608.65" y2="182.24" stroke="#000" stroke-width="1.6" />
<line x1="605.15" y1="182.24" x2="612.15" y2="182.24" stroke="#000" stroke-width="1.6" />
<line x1="608.65" y1="187.68" x2="608.65" y2="193.12" stroke="#000" stroke-width="1.6" />
<line x1="605.15" y1="193.12" x2="612.15" y2="193.12" stroke="#000" stroke-width="1.6" />
<polygon points="608.65,184.44 611.85,190.33 605.45,190.33"/>
<line x1="388.80" y1="77.52" x2="388.80" y2="70.72" stroke="#000" stroke-width="1.6" />
<line x1="385.30" y1="70.72" x2="392.30" y2="70.72" stroke="#000" stroke-width="1.6" />
<line x1="388.80" y1="77.52" x2="388.80" y2="84.32" stroke="#000" stroke-width="1.6" />
<line x1="385.30" y1="84.32" x2="392.30" y2="84.32" stroke="#000" stroke-width="1.6" />
<polygon points="388.80,80.76 392.00,74.87 385.60,74.87"/>
<line x1="393.20" y1="102.00" x2="393.20" y2="85.68" stroke="#000" stroke-width="1.6" />
<line x1="389.70" y1="85.68" x2="396.70" y2="85.68" stroke="#000" stroke-width="1.6" />
<line x1="393.20" y1="102.00" x2="393.20" y2="118.32" stroke="#000" stroke-width="1.6" />
<line x1="389.70" y1="118.32" x2="396.70" y2="118.32" stroke="#000" stroke-width="1.6" />
<polygon points="393.20,105.24 396.40,99.35 390.00,99.35"/>
<line x1="399.79" y1="126.48" x2="399.79" y2="122.40" stroke="#000" stroke-width="1.6" />
<line x1="396.29" y1="122.40" x2="403.29" y2="122.40" stroke="#000" stroke-width="1.6" />
<line x1="399.79" y1="126.48" x2="399.79" y2="130.56" stroke="#000" stroke-width="1.6" />
<line x1="396.29" y1="130.56" x2="403.29" y2="130.56" stroke="#000" stroke-width="1.6" />
<polygon points="399.79,129.72 402.99,123.83 396.59,123.83"/>
<line x1="410.79" y1="138.99" x2="410.79" y2="133.55" stroke="#000" stroke-width="1.6" />
<line x1="407.29" y1="133.55" x2="414.29" y2="133.55" stroke="#000" stroke-width="1.6" />
<line x1="410.79" y1="138.99" x2="410.79" y2="144.43" stroke="#000" stroke-width="1.6" />
<line x1="407.29" y1="144.43" x2="414.29" y2="144.43" stroke="#000" stroke-width="1.6" />
<polygon points="410.79,142.23 413.99,136.34 407.59,136.34"/>
<polygon points="421.78,179.63 424.98,173.74 418.58,173.74"/>
<polygon points="432.77,192.01 435.97,186.12 429.57,186.12"/>
<polygon points="443.76,193.50 446.96,187.61 440.56,187.61"/>
<polygon points="454.75,194.18 457.95,188.29 451.56,188.29"/>
<polygon points="465.75,194.59 468.95,188.70 462.55,188.70"/>
<polygon points="476.74,194.59 479.94,188.70 473.54,188.70"/>
<polygon points="608.65,193.64 611.85,187.75 605.45,187.75"/>
<text transform="translate(164.50,316.40) scale(0.9048,1)" font-size="20.00" font-weight="normal" fill="#000" >C</text>
<text transform="translate(306.01,317.10) scale(1.0717,1)" font-size="11.30" font-weight="bold" fill="#000" >MDA-MB-231</text>
<rect x="262.20" y="436.44" width="26.60" height="16.96" fill="#000" />
<line x1="275.50" y1="436.44" x2="275.50" y2="435.80" stroke="#000" stroke-width="2.0" />
<line x1="269.00" y1="435.80" x2="282.00" y2="435.80" stroke="#000" stroke-width="2.2" />
<rect x="300.20" y="418.20" width="26.60" height="35.20" fill="#000" />
<line x1="313.50" y1="418.20" x2="313.50" y2="410.20" stroke="#000" stroke-width="2.0" />
<line x1="307.00" y1="410.20" x2="320.00" y2="410.20" stroke="#000" stroke-width="2.2" />
<rect x="338.50" y="395.48" width="26.60" height="57.92" fill="#000" />
<line x1="351.80" y1="395.48" x2="351.80" y2="388.44" stroke="#000" stroke-width="2.0" />
<line x1="345.30" y1="388.44" x2="358.30" y2="388.44" stroke="#000" stroke-width="2.2" />
<rect x="376.60" y="379.80" width="26.60" height="73.60" fill="#000" />
<line x1="389.90" y1="379.80" x2="389.90" y2="369.88" stroke="#000" stroke-width="2.0" />
<line x1="383.40" y1="369.88" x2="396.40" y2="369.88" stroke="#000" stroke-width="2.2" />
<rect x="414.90" y="368.28" width="26.60" height="85.12" fill="#000" />
<line x1="428.20" y1="368.28" x2="428.20" y2="352.76" stroke="#000" stroke-width="2.0" />
<line x1="421.70" y1="352.76" x2="434.70" y2="352.76" stroke="#000" stroke-width="2.2" />
<line x1="256.30" y1="324.60" x2="256.30" y2="454.40" stroke="#000" stroke-width="1.8" />
<line x1="254.50" y1="453.40" x2="446.80" y2="453.40" stroke="#000" stroke-width="2.0" />
<line x1="252.50" y1="453.40" x2="256.30" y2="453.40" stroke="#000" stroke-width="1.6" />
<text transform="translate(246.47,456.55) scale(1.0000,1)" font-size="9.00" font-weight="bold" fill="#000">0</text>
<line x1="252.50" y1="421.40" x2="256.30" y2="421.40" stroke="#000" stroke-width="1.6" />
<text transform="translate(246.47,424.55) scale(1.0000,1)" font-size="9.00" font-weight="bold" fill="#000">2</text>
<line x1="252.50" y1="389.40" x2="256.30" y2="389.40" stroke="#000" stroke-width="1.6" />
<text transform="translate(246.15,392.55) scale(1.0000,1)" font-size="9.00" font-weight="bold" fill="#000">4</text>
<line x1="252.50" y1="357.40" x2="256.30" y2="357.40" stroke="#000" stroke-width="1.6" />
<text transform="translate(246.42,360.55) scale(1.0000,1)" font-size="9.00" font-weight="bold" fill="#000">6</text>
<line x1="252.50" y1="325.40" x2="256.30" y2="325.40" stroke="#000" stroke-width="1.6" />
<text transform="translate(246.38,328.55) scale(1.0000,1)" font-size="9.00" font-weight="bold" fill="#000">8</text>
<line x1="275.50" y1="453.40" x2="275.50" y2="457.20" stroke="#000" stroke-width="1.6" />
<text transform="translate(273.11,466.30) scale(1.0000,1)" font-size="8.60" font-weight="bold" fill="#000">0</text>
<line x1="313.50" y1="453.40" x2="313.50" y2="457.20" stroke="#000" stroke-width="1.6" />
<text transform="translate(307.48,466.30) scale(1.0000,1)" font-size="8.60" font-weight="bold" fill="#000">2.5</text>
<line x1="351.80" y1="453.40" x2="351.80" y2="457.20" stroke="#000" stroke-width="1.6" />
<text transform="translate(349.39,466.30) scale(1.0000,1)" font-size="8.60" font-weight="bold" fill="#000">5</text>
<line x1="389.90" y1="453.40" x2="389.90" y2="457.20" stroke="#000" stroke-width="1.6" />
<text transform="translate(385.02,466.30) scale(1.0000,1)" font-size="8.60" font-weight="bold" fill="#000">10</text>
<line x1="428.20" y1="453.40" x2="428.20" y2="457.20" stroke="#000" stroke-width="1.6" />
<text transform="translate(423.25,466.30) scale(1.0000,1)" font-size="8.60" font-weight="bold" fill="#000">15</text>
<path d="M275.50,342.70V337.70H423.80V342.70" fill="none" stroke="#3a3a3a" stroke-width="1.1"/>
<text transform="translate(296.47,335.73) scale(1.0936,1)" font-size="6.52" font-weight="normal" fill="#333" >(p&lt;0.05)</text>
<path d="M275.50,362.40V357.40H386.00V362.40" fill="none" stroke="#3a3a3a" stroke-width="1.1"/>
<text transform="translate(296.47,355.43) scale(1.0936,1)" font-size="6.52" font-weight="normal" fill="#333" >(p&lt;0.05)</text>
<path d="M275.50,383.00V378.00H348.50V383.00" fill="none" stroke="#6a6a6a" stroke-width="1.1"/>
<text transform="translate(296.47,376.03) scale(1.0936,1)" font-size="6.52" font-weight="normal" fill="#333" >(p&lt;0.05)</text>
<text transform="translate(319.92,477.40) scale(1.0128,1)" font-size="10.29" font-weight="bold" fill="#000" >PEITC (μM)</text>
<text transform="translate(225.30,461.96) rotate(-90) scale(0.9927,1)" font-size="10.48" font-weight="bold" fill="#000">Apoptosis (Fold over control)</text>
<text transform="translate(173.41,733.10) scale(1.0212,1)" font-size="19.42" font-weight="normal" fill="#000" >D</text>
<text transform="translate(320.03,736.90) scale(1.0205,1)" font-size="13.04" font-weight="bold" fill="#000" >MCF-7</text>
<rect x="256.55" y="862.46" width="29.30" height="36.14" fill="#000" />
<line x1="271.20" y1="862.46" x2="271.20" y2="861.76" stroke="#000" stroke-width="2.0" />
<line x1="263.95" y1="861.76" x2="278.45" y2="861.76" stroke="#000" stroke-width="2.2" />
<rect x="298.35" y="854.82" width="29.30" height="43.78" fill="#000" />
<line x1="313.00" y1="854.82" x2="313.00" y2="851.69" stroke="#000" stroke-width="2.0" />
<line x1="305.75" y1="851.69" x2="320.25" y2="851.69" stroke="#000" stroke-width="2.2" />
<rect x="340.35" y="842.65" width="29.30" height="55.95" fill="#000" />
<line x1="355.00" y1="842.65" x2="355.00" y2="835.70" stroke="#000" stroke-width="2.0" />
<line x1="347.75" y1="835.70" x2="362.25" y2="835.70" stroke="#000" stroke-width="2.2" />
<rect x="382.15" y="829.10" width="29.30" height="69.50" fill="#000" />
<line x1="396.80" y1="829.10" x2="396.80" y2="819.72" stroke="#000" stroke-width="2.0" />
<line x1="389.55" y1="819.72" x2="404.05" y2="819.72" stroke="#000" stroke-width="2.2" />
<rect x="423.85" y="805.82" width="29.30" height="92.78" fill="#000" />
<line x1="438.50" y1="805.82" x2="438.50" y2="790.53" stroke="#000" stroke-width="2.0" />
<line x1="431.25" y1="790.53" x2="445.75" y2="790.53" stroke="#000" stroke-width="2.2" />
<line x1="250.20" y1="758.80" x2="250.20" y2="899.60" stroke="#000" stroke-width="1.8" />
<line x1="247.50" y1="898.60" x2="459.30" y2="898.60" stroke="#000" stroke-width="2.0" />
<line x1="246.40" y1="898.60" x2="250.20" y2="898.60" stroke="#000" stroke-width="1.6" />
<text transform="translate(241.46,901.96) scale(1.0000,1)" font-size="9.60" font-weight="bold" fill="#000">0</text>
<line x1="246.40" y1="863.85" x2="250.20" y2="863.85" stroke="#000" stroke-width="1.6" />
<text transform="translate(241.31,867.21) scale(1.0000,1)" font-size="9.60" font-weight="bold" fill="#000">1</text>
<line x1="246.40" y1="829.10" x2="250.20" y2="829.10" stroke="#000" stroke-width="1.6" />
<text transform="translate(241.46,832.46) scale(1.0000,1)" font-size="9.60" font-weight="bold" fill="#000">2</text>
<line x1="246.40" y1="794.35" x2="250.20" y2="794.35" stroke="#000" stroke-width="1.6" />
<text transform="translate(241.41,797.71) scale(1.0000,1)" font-size="9.60" font-weight="bold" fill="#000">3</text>
<line x1="246.40" y1="759.60" x2="250.20" y2="759.60" stroke="#000" stroke-width="1.6" />
<text transform="translate(241.12,762.96) scale(1.0000,1)" font-size="9.60" font-weight="bold" fill="#000">4</text>
<line x1="271.20" y1="898.60" x2="271.20" y2="902.40" stroke="#000" stroke-width="1.6" />
<text transform="translate(268.43,913.00) scale(1.0000,1)" font-size="10.00" font-weight="bold" fill="#000">0</text>
<line x1="313.00" y1="898.60" x2="313.00" y2="902.40" stroke="#000" stroke-width="1.6" />
<text transform="translate(306.00,913.00) scale(1.0000,1)" font-size="10.00" font-weight="bold" fill="#000">2.5</text>
<line x1="355.00" y1="898.60" x2="355.00" y2="902.40" stroke="#000" stroke-width="1.6" />
<text transform="translate(352.20,913.00) scale(1.0000,1)" font-size="10.00" font-weight="bold" fill="#000">5</text>
<line x1="396.80" y1="898.60" x2="396.80" y2="902.40" stroke="#000" stroke-width="1.6" />
<text transform="translate(391.13,913.00) scale(1.0000,1)" font-size="10.00" font-weight="bold" fill="#000">10</text>
<line x1="438.50" y1="898.60" x2="438.50" y2="902.40" stroke="#000" stroke-width="1.6" />
<text transform="translate(432.75,913.00) scale(1.0000,1)" font-size="10.00" font-weight="bold" fill="#000">15</text>
<path d="M275.40,767.20V760.60H436.00V767.20" fill="none" stroke="#3a3a3a" stroke-width="1.1"/>
<text transform="translate(292.23,758.59) scale(1.1570,1)" font-size="6.74" font-weight="normal" fill="#333" >(p&lt;0.05)</text>
<path d="M275.40,791.10V784.50H394.80V791.10" fill="none" stroke="#3a3a3a" stroke-width="1.1"/>
<text transform="translate(292.23,782.49) scale(1.1570,1)" font-size="6.74" font-weight="normal" fill="#333" >(p&lt;0.05)</text>
<path d="M275.40,813.20V806.60H350.90V813.20" fill="none" stroke="#3a3a3a" stroke-width="1.1"/>
<text transform="translate(292.23,804.59) scale(1.1570,1)" font-size="6.74" font-weight="normal" fill="#333" >(p&lt;0.05)</text>
<text transform="translate(324.06,930.80) scale(0.9782,1)" font-size="11.59" font-weight="bold" fill="#000" >PEITC (μM)</text>
<text transform="translate(216.80,908.48) rotate(-90) scale(0.9330,1)" font-size="12.14" font-weight="bold" fill="#000">Apoptosis (Fold over control)</text>
<text transform="translate(52.02,501.20) scale(1.0000,1)" font-size="6.80" font-weight="normal" fill="#111">0μM PEITC MDA-MB-231</text>
<text transform="translate(77.53,508.60) scale(1.0000,1)" font-size="6.70" font-weight="normal" fill="#111">Gate: P1</text>
<g filter="url(#fb)">
<path d="M96 584.5h1M82 582.5h1M91 574.5h1M99 585.5h1M78 580.5h1M98 582.5h1M83 593.5h1M86 578.5h1M101 574.5h1M90 595.5h1M102 573.5h1M90 575.5h1M80 581.5h1M79 584.5h1M89 591.5h1M83 577.5h1M84 589.5h1M80 585.5h1M101 570.5h1M89 574.5h1M101 580.5h1M94 591.5h1M94 575.5h1M99 589.5h1M91 575.5h1M90 570.5h1M88 576.5h1M79 585.5h1M87 572.5h1M93 575.5h1M88 577.5h1M84 578.5h1M104 582.5h1M99 583.5h1M84 594.5h1M96 581.5h1M95 574.5h1M95 586.5h1M90 589.5h1M100 578.5h1M93 573.5h1M95 591.5h1M80 580.5h1M100 575.5h1M98 585.5h1M93 574.5h1M102 577.5h1M84 592.5h1M95 573.5h1M90 574.5h1M101 584.5h1M80 584.5h1M91 573.5h1M101 579.5h1M83 591.5h1M84 576.5h1M85 589.5h1M81 585.5h1M80 583.5h1M104 576.5h1M82 589.5h1M91 589.5h1M97 585.5h1M79 592.5h1M80 588.5h1M100 577.5h1M101 581.5h1M100 585.5h1M93 576.5h1M96 576.5h1M82 583.5h1M95 577.5h1M94 573.5h1M83 596.5h1M83 576.5h1M98 581.5h1M98 578.5h1M105 568.5h1M81 586.5h1M87 576.5h1M96 574.5h1M101 576.5h1M99 575.5h1M89 593.5h1M75 589.5h1M97 584.5h1M70 599.5h1M96 590.5h1M73 590.5h1M60 595.5h1M75 588.5h1M60 605.5h1M57 604.5h1M74 596.5h1M64 598.5h1M65 600.5h1M71 588.5h1M86 576.5h1M97 600.5h1M91 598.5h1M93 568.5h1M95 594.5h1M63 606.5h1M62 588.5h1M87 597.5h1M63 598.5h1M85 597.5h1M70 586.5h1M94 592.5h1M96 588.5h1M75 600.5h1M71 593.5h1M84 603.5h1M93 591.5h1M91 591.5h1M97 595.5h1M87 598.5h1M74 598.5h1M82 594.5h1M70 595.5h1M77 586.5h1M77 589.5h1M109 595.5h1M69 585.5h1M73 587.5h1M54 601.5h1M98 591.5h1M59 599.5h1M73 594.5h1M100 595.5h1M99 587.5h1M82 590.5h1M94 587.5h1M82 581.5h1M63 588.5h1M70 603.5h1M60 593.5h1M95 600.5h1M89 592.5h1M76 593.5h1M73 592.5h1M75 590.5h1M88 596.5h1M77 598.5h1M69 599.5h1M100 597.5h1M64 594.5h1M76 590.5h1M97 599.5h1M76 589.5h1M72 588.5h1M83 595.5h1M84 600.5h1M62 594.5h1M85 596.5h1M81 588.5h1M68 586.5h1M72 592.5h1M93 598.5h1M72 594.5h1M66 598.5h1M83 594.5h1M67 598.5h1M64 591.5h1M93 593.5h1M65 591.5h1M85 602.5h1M76 603.5h1M102 591.5h1M78 602.5h1M86 592.5h1M76 596.5h1M71 584.5h1M64 590.5h1M75 607.5h1M76 599.5h1M74 582.5h1M92 598.5h1M94 595.5h1M65 586.5h1M65 594.5h1M77 587.5h1M75 592.5h1M69 597.5h1M79 591.5h1M67 592.5h1M86 598.5h1M96 592.5h1M82 591.5h1M67 591.5h1M73 579.5h1M72 597.5h1M72 590.5h1M84 591.5h1M75 596.5h1M85 593.5h1M85 598.5h1M69 593.5h1M76 597.5h1M70 596.5h1M66 593.5h1M93 597.5h1M76 591.5h1M74 586.5h1M80 595.5h1M74 590.5h1M78 601.5h1M65 585.5h1M82 596.5h1M80 596.5h1M95 593.5h1M99 598.5h1M54 606.5h1M69 592.5h1M62 598.5h1M87 595.5h1M91 594.5h1M66 594.5h1M81 599.5h1M82 576.5h1M79 586.5h1M62 590.5h1M75 591.5h1M72 604.5h1M84 573.5h1M90 599.5h1M77 590.5h1M75 595.5h1M91 593.5h1M93 600.5h1M58 584.5h1M62 593.5h1M90 600.5h1M78 595.5h1M98 588.5h1M88 597.5h1M79 593.5h1M77 588.5h1M102 587.5h1M78 592.5h1M79 606.5h1M90 598.5h1M105 584.5h1M67 605.5h1M85 601.5h1M106 597.5h1M94 597.5h1M81 597.5h1M85 600.5h1M88 595.5h1M89 595.5h1M69 600.5h1M99 592.5h1M103 596.5h1M75 587.5h1M68 589.5h1M94 603.5h1M88 593.5h1M97 586.5h1M97 601.5h1M64 599.5h1M93 592.5h1M87 600.5h1M99 586.5h1M74 600.5h1M75 585.5h1M121 560.5h1M103 557.5h1M115 552.5h1M113 561.5h1M109 560.5h1M118 549.5h1M98 553.5h1M126 551.5h1M122 566.5h1M115 556.5h1M136 554.5h1M125 562.5h1M113 559.5h1M116 564.5h1M122 562.5h1M115 542.5h1M108 550.5h1M122 548.5h1M129 553.5h1M119 556.5h1M115 568.5h1M111 549.5h1M104 551.5h1M120 557.5h1M116 559.5h1M122 549.5h1M132 551.5h1M110 562.5h1M118 561.5h1M122 559.5h1M109 559.5h1M109 549.5h1M117 564.5h1M110 552.5h1M116 553.5h1M116 565.5h1M119 557.5h1M105 556.5h1M110 551.5h1M126 557.5h1M112 560.5h1M112 561.5h1M117 561.5h1M128 561.5h1M105 566.5h1M102 558.5h1M107 557.5h1M124 555.5h1M106 550.5h1M119 555.5h1M119 564.5h1M116 555.5h1M111 553.5h1M119 553.5h1M110 556.5h1M124 554.5h1M105 554.5h1M119 561.5h1M112 558.5h1M130 560.5h1M110 559.5h1M112 555.5h1M105 559.5h1M118 554.5h1M128 552.5h1M103 555.5h1M114 561.5h1M100 554.5h1M123 549.5h1M113 546.5h1M123 555.5h1M100 556.5h1M119 563.5h1M120 551.5h1M128 567.5h1M121 554.5h1M120 545.5h1M105 551.5h1M110 554.5h1M128 556.5h1M113 557.5h1M106 562.5h1M113 550.5h1M106 555.5h1M111 552.5h1M109 557.5h1M111 560.5h1M124 557.5h1M118 577.5h1M121 552.5h1M112 554.5h1M102 560.5h1M114 558.5h1M108 552.5h1M119 565.5h1M116 540.5h1M105 557.5h1M109 552.5h1M115 554.5h1M109 565.5h1M117 550.5h1M121 550.5h1M110 570.5h1M114 554.5h1M122 563.5h1M132 556.5h1M115 558.5h1M118 547.5h1M113 552.5h1M116 556.5h1M123 561.5h1M113 553.5h1M120 559.5h1M101 553.5h1M122 554.5h1M112 573.5h1M124 558.5h1M112 562.5h1M123 560.5h1M112 548.5h1M115 548.5h1M117 559.5h1M128 550.5h1M117 553.5h1M115 551.5h1M113 563.5h1M111 561.5h1M127 557.5h1M125 559.5h1M111 551.5h1M116 561.5h1M107 552.5h1M121 565.5h1M105 596.5h1M114 579.5h1M103 583.5h1M111 580.5h1M111 575.5h1M111 578.5h1M114 575.5h1M110 568.5h1M107 576.5h1M104 575.5h1M118 574.5h1M120 582.5h1M120 578.5h1M107 574.5h1M120 574.5h1M114 580.5h1M114 584.5h1M126 568.5h1M111 570.5h1M101 558.5h1M96 570.5h1M110 583.5h1M110 584.5h1M112 589.5h1M110 577.5h1M110 571.5h1M114 572.5h1M117 579.5h1M103 584.5h1M103 580.5h1M104 560.5h1M99 576.5h1M117 577.5h1M102 583.5h1M106 570.5h1M105 603.5h1M107 586.5h1M103 569.5h1M109 574.5h1M108 570.5h1M111 590.5h1M103 565.5h1M109 576.5h1M114 560.5h1M106 572.5h1M110 574.5h1M105 578.5h1M108 569.5h1M112 570.5h1M111 576.5h1M98 569.5h1M101 577.5h1M111 568.5h1M109 563.5h1M115 575.5h1M108 579.5h1M102 582.5h1M114 567.5h1M101 557.5h1M108 583.5h1M107 582.5h1M112 588.5h1M113 568.5h1M106 581.5h1M104 584.5h1M105 585.5h1M113 588.5h1M110 581.5h1M116 580.5h1M122 582.5h1M103 574.5h1M105 565.5h1M111 569.5h1M110 575.5h1M106 569.5h1M122 573.5h1M101 562.5h1M116 570.5h1M110 588.5h1M102 579.5h1M107 573.5h1M106 573.5h1M123 584.5h1M106 587.5h1M103 571.5h1" stroke="#888" stroke-width="1" fill="none"/>
<path d="M78 591.5h1M95 572.5h1M98 575.5h1M95 580.5h1M86 591.5h1M84 588.5h1M89 576.5h1M92 575.5h1M96 585.5h1M95 576.5h1M82 593.5h1M94 590.5h1M93 588.5h1M88 578.5h1M85 579.5h1M97 577.5h1M86 595.5h1M88 590.5h1M98 583.5h1M81 595.5h1M97 575.5h1M94 583.5h1M87 585.5h1M79 587.5h1M85 575.5h1M85 580.5h1M80 586.5h1M83 580.5h1M79 588.5h1M87 593.5h1M99 579.5h1M90 576.5h1M87 592.5h1M96 577.5h1M85 581.5h1M98 580.5h1M102 575.5h1M80 589.5h1M81 580.5h1M81 583.5h1M81 594.5h1M77 593.5h1M92 574.5h1M95 585.5h1M103 581.5h1M88 591.5h1M98 577.5h1M82 586.5h1M93 585.5h1M97 583.5h1M80 590.5h1M99 578.5h1M81 582.5h1M96 586.5h1M94 574.5h1M84 593.5h1M91 595.5h1M84 584.5h1M95 579.5h1M85 594.5h1M91 590.5h1M78 590.5h1M78 586.5h1M90 591.5h1M95 588.5h1M77 595.5h1M81 601.5h1M81 593.5h1M89 590.5h1M82 598.5h1M79 594.5h1M73 596.5h1M77 599.5h1M73 591.5h1M77 596.5h1M76 592.5h1M86 601.5h1M76 583.5h1M78 600.5h1M95 589.5h1M78 598.5h1M77 594.5h1M87 599.5h1M82 597.5h1M89 596.5h1M65 596.5h1M81 598.5h1M80 598.5h1M81 596.5h1M90 597.5h1M83 597.5h1M71 591.5h1M87 591.5h1M84 596.5h1M72 602.5h1M77 597.5h1M92 589.5h1M77 591.5h1M115 555.5h1M117 560.5h1M112 557.5h1M111 563.5h1M119 552.5h1M120 549.5h1M111 555.5h1M123 550.5h1M118 556.5h1M114 555.5h1M105 558.5h1M108 562.5h1M111 556.5h1M112 550.5h1M112 571.5h1M121 553.5h1M118 548.5h1M113 555.5h1M108 561.5h1M110 555.5h1M116 558.5h1M119 562.5h1M120 561.5h1M109 564.5h1M116 563.5h1M104 571.5h1M111 565.5h1M108 580.5h1M108 575.5h1M104 580.5h1M110 569.5h1" stroke="#444" stroke-width="1" fill="none"/>
<path d="M90 580.5h1M93 579.5h1M93 583.5h1M84 587.5h1M97 582.5h1M89 578.5h1M91 587.5h1M90 578.5h1M91 581.5h1M92 582.5h1M95 587.5h1M94 582.5h1M86 584.5h1M92 586.5h1M88 584.5h1M91 583.5h1M89 584.5h1M89 588.5h1M88 582.5h1M90 585.5h1M96 578.5h1M94 578.5h1M85 592.5h1M90 583.5h1M89 585.5h1M90 581.5h1M91 582.5h1M86 587.5h1M90 586.5h1M93 581.5h1M91 588.5h1M83 588.5h1M87 578.5h1M85 587.5h1M85 583.5h1M91 584.5h1M87 587.5h1M89 581.5h1M92 577.5h1M88 586.5h1M89 575.5h1M84 580.5h1M98 584.5h1M88 580.5h1M83 585.5h1M84 579.5h1M83 583.5h1M87 588.5h1M93 589.5h1M96 582.5h1M92 587.5h1M84 582.5h1M92 578.5h1M87 582.5h1M89 582.5h1M86 577.5h1M90 577.5h1M92 590.5h1M90 579.5h1M86 580.5h1M83 586.5h1M94 584.5h1M87 584.5h1M93 582.5h1M86 585.5h1M83 587.5h1M97 576.5h1M88 581.5h1M86 583.5h1M87 579.5h1M89 587.5h1M83 584.5h1M86 590.5h1M96 583.5h1M85 585.5h1M84 586.5h1M89 577.5h1M88 587.5h1M84 583.5h1M94 586.5h1M97 578.5h1M92 580.5h1M89 583.5h1M91 580.5h1M82 584.5h1M95 581.5h1M89 589.5h1M88 583.5h1M90 592.5h1M92 583.5h1M88 579.5h1M94 581.5h1M97 574.5h1M93 584.5h1M92 585.5h1M90 582.5h1M88 585.5h1M94 577.5h1M92 584.5h1M89 580.5h1M96 580.5h1M94 585.5h1M95 583.5h1M88 588.5h1M94 572.5h1M86 586.5h1M86 579.5h1M90 584.5h1M94 580.5h1M86 588.5h1M90 588.5h1M95 584.5h1M89 579.5h1M82 585.5h1M96 575.5h1M89 586.5h1M95 582.5h1M87 583.5h1M92 588.5h1M98 586.5h1M85 591.5h1M86 589.5h1M93 590.5h1M87 580.5h1M88 575.5h1M92 581.5h1M81 584.5h1M85 584.5h1M91 577.5h1M83 582.5h1M92 579.5h1M99 580.5h1M84 590.5h1M97 579.5h1M93 587.5h1M85 586.5h1M85 588.5h1M90 587.5h1M91 578.5h1M91 576.5h1M95 578.5h1M87 589.5h1M93 580.5h1M85 582.5h1M93 578.5h1M87 586.5h1M96 579.5h1M91 579.5h1M93 586.5h1M87 581.5h1M81 587.5h1M90 590.5h1M84 585.5h1M92 576.5h1M94 579.5h1M98 574.5h1M91 585.5h1M100 579.5h1M84 581.5h1M95 590.5h1M93 577.5h1M85 590.5h1M94 576.5h1M80 587.5h1M82 588.5h1M86 581.5h1M91 586.5h1M82 587.5h1M81 590.5h1M83 592.5h1M88 592.5h1M80 599.5h1M83 589.5h1M87 590.5h1M92 591.5h1M94 588.5h1M97 590.5h1M86 582.5h1M81 592.5h1M88 594.5h1M80 591.5h1M76 585.5h1M97 587.5h1M88 589.5h1M78 589.5h1M114 557.5h1M114 556.5h1M116 554.5h1M118 560.5h1" stroke="#000" stroke-width="1" fill="none"/>
</g>
<rect x="42.40" y="510.80" width="99.10" height="99.40" fill="none" stroke="#9a9a9a" stroke-width="1"/>
<path d="M39.80 606.57H42.40M39.80 603.75H42.40M39.80 601.75H42.40M39.80 600.19H42.40M39.80 598.92H42.40M39.80 597.85H42.40M39.80 596.92H42.40M39.80 596.10H42.40M39.80 590.54H42.40M39.80 587.72H42.40M39.80 585.72H42.40M39.80 584.16H42.40M39.80 582.89H42.40M39.80 581.82H42.40M39.80 580.89H42.40M39.80 580.07H42.40M39.80 574.51H42.40M39.80 571.69H42.40M39.80 569.68H42.40M39.80 568.13H42.40M39.80 566.86H42.40M39.80 565.79H42.40M39.80 564.86H42.40M39.80 564.04H42.40M39.80 558.48H42.40M39.80 555.65H42.40M39.80 553.65H42.40M39.80 552.10H42.40M39.80 550.83H42.40M39.80 549.75H42.40M39.80 548.82H42.40M39.80 548.00H42.40M39.80 542.44H42.40M39.80 539.62H42.40M39.80 537.62H42.40M39.80 536.06H42.40M39.80 534.80H42.40M39.80 533.72H42.40M39.80 532.79H42.40M39.80 531.97H42.40M39.80 526.41H42.40M39.80 523.59H42.40M39.80 521.59H42.40M39.80 520.03H42.40M39.80 518.76H42.40M39.80 517.69H42.40M39.80 516.76H42.40M39.80 515.94H42.40" stroke="#7a7a7a" stroke-width="1.1"/>
<path d="M39.00 611.40H42.40M39.00 595.37H42.40M39.00 579.34H42.40M39.00 563.30H42.40M39.00 547.27H42.40M39.00 531.24H42.40M39.00 515.21H42.40" stroke="#222" stroke-width="1.6"/>
<path d="M47.23 610.20V612.60M50.05 610.20V612.60M52.05 610.20V612.60M53.61 610.20V612.60M54.88 610.20V612.60M55.95 610.20V612.60M56.88 610.20V612.60M57.70 610.20V612.60M63.26 610.20V612.60M66.08 610.20V612.60M68.08 610.20V612.60M69.64 610.20V612.60M70.91 610.20V612.60M71.98 610.20V612.60M72.91 610.20V612.60M73.73 610.20V612.60M79.29 610.20V612.60M82.11 610.20V612.60M84.12 610.20V612.60M85.67 610.20V612.60M86.94 610.20V612.60M88.01 610.20V612.60M88.94 610.20V612.60M89.76 610.20V612.60M95.32 610.20V612.60M98.15 610.20V612.60M100.15 610.20V612.60M101.70 610.20V612.60M102.97 610.20V612.60M104.05 610.20V612.60M104.98 610.20V612.60M105.80 610.20V612.60M111.36 610.20V612.60M114.18 610.20V612.60M116.18 610.20V612.60M117.74 610.20V612.60M119.00 610.20V612.60M120.08 610.20V612.60M121.01 610.20V612.60M121.83 610.20V612.60M127.39 610.20V612.60M130.21 610.20V612.60M132.21 610.20V612.60M133.77 610.20V612.60M135.04 610.20V612.60M136.11 610.20V612.60M137.04 610.20V612.60M137.86 610.20V612.60" stroke="#8a8a8a" stroke-width="1"/>
<path d="M42.40 610.20V613.00M58.43 610.20V613.00M74.46 610.20V613.00M90.50 610.20V613.00M106.53 610.20V613.00M122.56 610.20V613.00M138.59 610.20V613.00" stroke="#333" stroke-width="1.3"/>
<line x1="102.40" y1="510.80" x2="102.40" y2="610.20" stroke="#4a4a4a" stroke-width="1.9" />
<line x1="42.40" y1="564.80" x2="141.50" y2="564.80" stroke="#4a4a4a" stroke-width="1.9" />
<text transform="translate(42.92,518.00) scale(1.15,1)" font-size="6.0" font-weight="bold" fill="#1e1e1e">Q1-UL</text>
<text transform="translate(42.92,523.90) scale(1.15,1)" font-size="6.0" font-weight="bold" fill="#1e1e1e">0.4%</text>
<text transform="translate(119.88,518.00) scale(1.1500,1)" font-size="6.00" font-weight="bold" fill="#1e1e1e">Q1-UR</text>
<text transform="translate(119.95,523.90) scale(1.15,1)" font-size="6.0" font-weight="bold" fill="#1e1e1e">8.1%</text>
<text transform="translate(42.92,603.20) scale(1.15,1)" font-size="6.0" font-weight="bold" fill="#1e1e1e">Q1-LL</text>
<text transform="translate(42.89,609.00) scale(1.15,1)" font-size="6.0" font-weight="bold" fill="#1e1e1e">72.4%</text>
<text transform="translate(120.64,603.20) scale(1.1500,1)" font-size="6.00" font-weight="bold" fill="#1e1e1e">Q1-LR</text>
<text transform="translate(120.47,609.00) scale(1.15,1)" font-size="6.0" font-weight="bold" fill="#1e1e1e">19.2%</text>
<text transform="translate(92.16,558.90) scale(1.1500,1)" font-size="6.00" font-weight="bold" fill="#1e1e1e">Q1</text>
<text transform="translate(35.40,613.20) rotate(-75)" font-size="4.6" fill="#333">ω<tspan font-size="4" dy="-1.2">1</tspan></text>
<text transform="translate(40.20,618.80) rotate(-15)" font-size="4.6" fill="#333">ω<tspan font-size="4" dy="-1.2">1</tspan></text>
<text transform="translate(35.40,597.17) rotate(-75)" font-size="4.6" fill="#333">ω<tspan font-size="4" dy="-1.2">2</tspan></text>
<text transform="translate(56.23,618.80) rotate(-15)" font-size="4.6" fill="#333">ω<tspan font-size="4" dy="-1.2">2</tspan></text>
<text transform="translate(35.40,581.14) rotate(-75)" font-size="4.6" fill="#333">ω<tspan font-size="4" dy="-1.2">3</tspan></text>
<text transform="translate(72.26,618.80) rotate(-15)" font-size="4.6" fill="#333">ω<tspan font-size="4" dy="-1.2">3</tspan></text>
<text transform="translate(35.40,565.10) rotate(-75)" font-size="4.6" fill="#333">ω<tspan font-size="4" dy="-1.2">4</tspan></text>
<text transform="translate(88.30,618.80) rotate(-15)" font-size="4.6" fill="#333">ω<tspan font-size="4" dy="-1.2">4</tspan></text>
<text transform="translate(35.40,549.07) rotate(-75)" font-size="4.6" fill="#333">ω<tspan font-size="4" dy="-1.2">5</tspan></text>
<text transform="translate(104.33,618.80) rotate(-15)" font-size="4.6" fill="#333">ω<tspan font-size="4" dy="-1.2">5</tspan></text>
<text transform="translate(35.40,533.04) rotate(-75)" font-size="4.6" fill="#333">ω<tspan font-size="4" dy="-1.2">6</tspan></text>
<text transform="translate(120.36,618.80) rotate(-15)" font-size="4.6" fill="#333">ω<tspan font-size="4" dy="-1.2">6</tspan></text>
<text transform="translate(35.40,514.80) rotate(-75)" font-size="4.6" fill="#333">ω<tspan font-size="4" dy="-1.2">7.2</tspan></text>
<text transform="translate(139.30,618.80) rotate(-15)" font-size="4.6" fill="#333">ω<tspan font-size="4" dy="-1.2">7.2</tspan></text>
<text transform="translate(83.25,626.20) scale(1.0000,1)" font-size="6.00" font-weight="normal" fill="#333">FL1-A</text>
<text transform="translate(30.00,579.40) rotate(-90)" font-size="5.9" fill="#333">FL2-A</text>
<text transform="translate(178.74,501.20) scale(1.0000,1)" font-size="6.80" font-weight="normal" fill="#111">2.5μM PEITC MDA-MB-231</text>
<text transform="translate(207.13,508.60) scale(1.0000,1)" font-size="6.70" font-weight="normal" fill="#111">Gate: P1</text>
<g filter="url(#fb)">
<path d="M215 573.5h1M216 576.5h1M211 587.5h1M224 588.5h1M227 580.5h1M225 570.5h1M219 571.5h1M228 572.5h1M228 584.5h1M223 570.5h1M211 585.5h1M212 576.5h1M215 593.5h1M223 590.5h1M211 578.5h1M228 583.5h1M224 571.5h1M209 589.5h1M231 580.5h1M210 581.5h1M223 588.5h1M221 573.5h1M227 570.5h1M214 573.5h1M231 577.5h1M215 575.5h1M210 582.5h1M229 579.5h1M228 580.5h1M223 572.5h1M233 572.5h1M227 582.5h1M228 570.5h1M224 589.5h1M225 577.5h1M228 568.5h1M211 589.5h1M220 573.5h1M230 572.5h1M212 580.5h1M226 576.5h1M209 580.5h1M219 572.5h1M228 589.5h1M228 576.5h1M228 585.5h1M215 578.5h1M233 575.5h1M211 579.5h1M221 574.5h1M227 574.5h1M212 586.5h1M210 590.5h1M222 575.5h1M218 592.5h1M212 592.5h1M227 584.5h1M213 576.5h1M226 566.5h1M221 572.5h1M213 589.5h1M216 594.5h1M223 575.5h1M227 587.5h1M231 584.5h1M209 594.5h1M228 579.5h1M209 590.5h1M216 570.5h1M216 591.5h1M219 595.5h1M226 581.5h1M220 570.5h1M220 571.5h1M236 575.5h1M220 575.5h1M208 588.5h1M218 576.5h1M227 573.5h1M218 590.5h1M224 585.5h1M226 585.5h1M225 573.5h1M216 572.5h1M220 572.5h1M225 592.5h1M197 583.5h1M230 589.5h1M215 597.5h1M217 600.5h1M199 589.5h1M192 593.5h1M222 604.5h1M208 592.5h1M195 581.5h1M218 595.5h1M198 583.5h1M211 577.5h1M208 593.5h1M234 591.5h1M207 591.5h1M210 580.5h1M208 598.5h1M203 580.5h1M235 593.5h1M226 600.5h1M199 597.5h1M204 595.5h1M217 599.5h1M229 597.5h1M219 601.5h1M228 594.5h1M198 601.5h1M220 590.5h1M205 600.5h1M201 593.5h1M212 575.5h1M201 601.5h1M206 600.5h1M216 600.5h1M203 587.5h1M194 588.5h1M189 601.5h1M205 602.5h1M210 592.5h1M199 601.5h1M219 597.5h1M205 604.5h1M220 597.5h1M210 577.5h1M208 604.5h1M220 591.5h1M230 591.5h1M200 600.5h1M215 602.5h1M204 591.5h1M199 587.5h1M225 597.5h1M240 589.5h1M212 593.5h1M215 606.5h1M222 590.5h1M205 588.5h1M201 605.5h1M202 592.5h1M235 599.5h1M200 596.5h1M239 585.5h1M200 593.5h1M233 589.5h1M209 595.5h1M207 596.5h1M213 605.5h1M196 583.5h1M211 596.5h1M218 600.5h1M230 588.5h1M227 591.5h1M228 592.5h1M220 601.5h1M214 572.5h1M197 601.5h1M203 591.5h1M195 598.5h1M206 591.5h1M203 583.5h1M222 596.5h1M231 602.5h1M188 594.5h1M211 599.5h1M198 594.5h1M197 594.5h1M207 601.5h1M226 594.5h1M210 605.5h1M191 604.5h1M217 604.5h1M220 594.5h1M201 587.5h1M214 595.5h1M207 597.5h1M232 594.5h1M204 602.5h1M207 585.5h1M204 596.5h1M224 593.5h1M195 603.5h1M204 597.5h1M209 587.5h1M225 591.5h1M208 591.5h1M185 600.5h1M210 599.5h1M228 593.5h1M231 599.5h1M222 598.5h1M208 589.5h1M213 596.5h1M208 599.5h1M223 594.5h1M216 595.5h1M221 594.5h1M192 603.5h1M208 583.5h1M199 596.5h1M205 579.5h1M222 592.5h1M198 596.5h1M224 596.5h1M208 597.5h1M205 585.5h1M199 586.5h1M203 594.5h1M209 597.5h1M192 592.5h1M204 603.5h1M226 587.5h1M209 591.5h1M204 594.5h1M202 595.5h1M209 583.5h1M227 588.5h1M199 600.5h1M194 597.5h1M206 595.5h1M211 598.5h1M216 606.5h1M209 578.5h1M212 600.5h1M211 605.5h1M245 579.5h1M205 607.5h1M210 596.5h1M229 582.5h1M198 603.5h1M206 603.5h1M229 586.5h1M195 606.5h1M214 594.5h1M198 591.5h1M223 592.5h1M194 600.5h1M196 593.5h1M202 591.5h1M195 592.5h1M198 590.5h1M202 602.5h1M214 596.5h1M230 582.5h1M203 601.5h1M203 597.5h1M230 592.5h1M202 597.5h1M209 604.5h1M203 606.5h1M252 544.5h1M246 563.5h1M250 564.5h1M237 554.5h1M257 566.5h1M249 563.5h1M248 556.5h1M254 551.5h1M259 558.5h1M263 549.5h1M229 566.5h1M247 559.5h1M232 559.5h1M233 547.5h1M243 556.5h1M257 553.5h1M251 548.5h1M258 553.5h1M251 549.5h1M254 555.5h1M247 548.5h1M221 560.5h1M247 560.5h1M232 561.5h1M239 566.5h1M249 557.5h1M231 560.5h1M249 546.5h1M246 550.5h1M249 550.5h1M233 553.5h1M242 559.5h1M236 557.5h1M244 567.5h1M244 551.5h1M239 563.5h1M251 554.5h1M259 556.5h1M241 562.5h1M245 557.5h1M230 560.5h1M237 556.5h1M243 565.5h1M241 565.5h1M242 557.5h1M245 564.5h1M252 549.5h1M246 561.5h1M239 558.5h1M256 561.5h1M245 562.5h1M254 557.5h1M237 555.5h1M255 550.5h1M253 565.5h1M245 559.5h1M240 551.5h1M240 564.5h1M243 562.5h1M238 565.5h1M238 557.5h1M246 551.5h1M249 555.5h1M238 552.5h1M244 563.5h1M231 553.5h1M253 558.5h1M245 554.5h1M256 559.5h1M258 556.5h1M254 549.5h1M244 568.5h1M243 560.5h1M243 558.5h1M250 571.5h1M252 546.5h1M242 560.5h1M229 552.5h1M249 552.5h1M236 564.5h1M237 560.5h1M255 557.5h1M237 549.5h1M239 573.5h1M241 547.5h1M242 562.5h1M239 560.5h1M234 558.5h1M256 558.5h1M241 554.5h1M250 546.5h1M251 568.5h1M251 560.5h1M242 549.5h1M234 549.5h1M235 549.5h1M253 556.5h1M245 544.5h1M246 564.5h1M237 558.5h1M249 564.5h1M247 550.5h1M235 568.5h1M243 557.5h1M243 551.5h1M244 548.5h1M235 550.5h1M245 566.5h1M232 563.5h1M244 556.5h1M235 551.5h1M249 568.5h1M240 569.5h1M232 551.5h1M235 559.5h1M256 551.5h1M236 559.5h1M248 547.5h1M232 558.5h1M246 556.5h1M250 552.5h1M247 562.5h1M256 555.5h1M235 556.5h1M248 562.5h1M247 555.5h1M255 540.5h1M246 539.5h1M252 551.5h1M252 550.5h1M245 555.5h1M248 549.5h1M240 552.5h1M247 564.5h1M246 549.5h1M242 556.5h1M251 564.5h1M259 557.5h1M253 562.5h1M241 550.5h1M251 559.5h1M245 556.5h1M238 558.5h1M242 555.5h1M240 548.5h1M236 565.5h1M241 561.5h1M254 565.5h1M241 557.5h1M260 554.5h1M236 551.5h1M252 558.5h1M252 562.5h1M252 561.5h1M234 554.5h1M252 552.5h1M245 561.5h1M241 568.5h1M234 586.5h1M238 591.5h1M242 567.5h1M233 564.5h1M236 577.5h1M241 593.5h1M241 574.5h1M234 572.5h1M247 575.5h1M249 582.5h1M246 586.5h1M245 576.5h1M238 575.5h1M245 580.5h1M232 573.5h1M239 577.5h1M233 571.5h1M248 574.5h1M226 569.5h1M235 580.5h1M247 585.5h1M242 580.5h1M240 571.5h1M238 577.5h1M241 582.5h1M239 575.5h1M237 565.5h1M229 574.5h1M243 588.5h1M235 584.5h1M240 575.5h1M240 577.5h1M243 593.5h1M233 585.5h1M242 579.5h1M238 566.5h1M232 582.5h1M235 594.5h1M231 583.5h1M244 566.5h1M233 580.5h1M232 565.5h1M238 578.5h1M241 585.5h1M236 588.5h1M232 577.5h1M240 579.5h1M229 575.5h1M243 589.5h1M228 569.5h1M241 564.5h1M235 590.5h1M236 594.5h1M246 584.5h1M249 583.5h1M245 573.5h1M241 569.5h1M235 574.5h1M238 583.5h1M234 571.5h1M241 586.5h1M236 571.5h1M247 589.5h1M237 583.5h1M235 573.5h1M234 574.5h1M245 586.5h1M243 571.5h1M243 570.5h1M234 575.5h1M231 579.5h1M238 576.5h1M236 566.5h1M239 571.5h1M243 568.5h1M238 585.5h1M247 576.5h1M233 582.5h1M241 566.5h1M237 576.5h1M243 579.5h1M237 568.5h1M235 571.5h1M233 577.5h1M232 579.5h1M234 579.5h1M244 578.5h1M251 579.5h1M236 569.5h1M237 587.5h1M227 585.5h1M246 589.5h1M231 573.5h1M237 569.5h1M237 585.5h1M230 579.5h1M239 595.5h1M237 574.5h1M241 577.5h1M238 573.5h1M236 576.5h1M240 576.5h1M226 564.5h1M241 583.5h1M237 570.5h1M232 575.5h1M233 584.5h1M243 586.5h1" stroke="#888" stroke-width="1" fill="none"/>
<path d="M221 588.5h1M225 574.5h1M220 574.5h1M223 571.5h1M214 577.5h1M216 575.5h1M224 573.5h1M215 576.5h1M219 575.5h1M210 585.5h1M220 576.5h1M226 575.5h1M214 592.5h1M219 588.5h1M221 585.5h1M214 593.5h1M224 586.5h1M216 589.5h1M229 577.5h1M226 578.5h1M208 586.5h1M226 583.5h1M228 573.5h1M229 570.5h1M206 590.5h1M227 581.5h1M228 578.5h1M222 573.5h1M230 581.5h1M219 589.5h1M225 587.5h1M218 581.5h1M217 573.5h1M226 582.5h1M209 588.5h1M217 589.5h1M222 591.5h1M212 589.5h1M225 585.5h1M212 581.5h1M211 592.5h1M225 581.5h1M213 585.5h1M228 577.5h1M223 587.5h1M225 576.5h1M229 581.5h1M224 575.5h1M223 574.5h1M229 573.5h1M211 591.5h1M221 575.5h1M211 590.5h1M214 582.5h1M210 591.5h1M218 574.5h1M225 583.5h1M210 586.5h1M231 574.5h1M226 584.5h1M226 571.5h1M221 589.5h1M207 589.5h1M225 586.5h1M213 591.5h1M216 578.5h1M207 593.5h1M212 597.5h1M222 602.5h1M200 591.5h1M209 596.5h1M218 596.5h1M202 590.5h1M216 599.5h1M201 594.5h1M201 598.5h1M197 592.5h1M213 597.5h1M206 597.5h1M204 589.5h1M215 594.5h1M210 589.5h1M203 584.5h1M223 591.5h1M217 591.5h1M200 594.5h1M206 592.5h1M220 598.5h1M205 596.5h1M210 598.5h1M221 591.5h1M213 600.5h1M201 590.5h1M205 595.5h1M209 582.5h1M231 585.5h1M205 593.5h1M208 596.5h1M207 587.5h1M207 595.5h1M208 595.5h1M203 599.5h1M205 590.5h1M199 599.5h1M219 594.5h1M217 596.5h1M202 601.5h1M241 563.5h1M246 552.5h1M251 555.5h1M238 559.5h1M244 558.5h1M245 547.5h1M247 557.5h1M248 557.5h1M243 554.5h1M239 556.5h1M247 553.5h1M243 555.5h1M242 553.5h1M246 559.5h1M248 561.5h1M233 561.5h1M250 558.5h1M248 551.5h1M242 554.5h1M238 555.5h1M250 550.5h1M242 564.5h1M242 565.5h1M242 570.5h1M246 555.5h1M251 561.5h1M252 557.5h1M244 561.5h1M233 576.5h1M230 574.5h1M238 582.5h1M237 572.5h1M237 571.5h1M242 576.5h1" stroke="#444" stroke-width="1" fill="none"/>
<path d="M222 584.5h1M217 583.5h1M211 593.5h1M217 582.5h1M218 575.5h1M219 580.5h1M218 585.5h1M225 580.5h1M221 586.5h1M217 586.5h1M222 581.5h1M220 584.5h1M215 583.5h1M213 583.5h1M223 580.5h1M222 583.5h1M220 580.5h1M216 587.5h1M222 579.5h1M214 589.5h1M215 590.5h1M224 580.5h1M218 580.5h1M224 578.5h1M220 578.5h1M217 577.5h1M218 582.5h1M224 581.5h1M215 587.5h1M218 584.5h1M218 587.5h1M211 583.5h1M222 589.5h1M223 578.5h1M211 588.5h1M224 579.5h1M215 589.5h1M222 576.5h1M222 577.5h1M219 584.5h1M222 580.5h1M220 585.5h1M221 579.5h1M214 585.5h1M226 579.5h1M219 582.5h1M227 578.5h1M217 580.5h1M216 585.5h1M223 586.5h1M218 591.5h1M214 584.5h1M218 583.5h1M216 584.5h1M217 581.5h1M217 587.5h1M219 581.5h1M217 585.5h1M214 578.5h1M221 584.5h1M216 582.5h1M219 587.5h1M212 582.5h1M218 578.5h1M223 581.5h1M217 588.5h1M215 585.5h1M224 584.5h1M223 579.5h1M224 574.5h1M216 579.5h1M214 581.5h1M219 586.5h1M213 586.5h1M216 583.5h1M221 580.5h1M216 586.5h1M219 585.5h1M217 578.5h1M211 581.5h1M214 587.5h1M214 583.5h1M224 587.5h1M215 580.5h1M222 585.5h1M225 582.5h1M216 581.5h1M224 582.5h1M220 581.5h1M213 582.5h1M221 576.5h1M219 578.5h1M210 588.5h1M211 582.5h1M223 582.5h1M219 579.5h1M216 588.5h1M227 579.5h1M224 583.5h1M215 582.5h1M216 592.5h1M224 577.5h1M223 585.5h1M218 579.5h1M225 579.5h1M215 588.5h1M220 577.5h1M214 591.5h1M217 575.5h1M216 593.5h1M217 584.5h1M217 579.5h1M218 588.5h1M215 591.5h1M221 578.5h1M216 580.5h1M214 586.5h1M222 578.5h1M218 586.5h1M220 583.5h1M213 587.5h1M222 582.5h1M215 581.5h1M221 587.5h1M220 589.5h1M214 579.5h1M218 577.5h1M217 590.5h1M212 590.5h1M219 590.5h1M215 586.5h1M220 579.5h1M214 580.5h1M212 588.5h1M220 588.5h1M219 577.5h1M223 589.5h1M214 590.5h1M223 577.5h1M216 577.5h1M212 585.5h1M219 583.5h1M223 584.5h1M220 582.5h1M210 583.5h1M223 576.5h1M215 584.5h1M225 584.5h1M227 576.5h1M209 592.5h1M221 583.5h1M214 588.5h1M225 578.5h1M212 579.5h1M218 589.5h1M220 587.5h1M215 579.5h1M219 574.5h1M221 581.5h1M212 583.5h1M221 582.5h1M220 586.5h1M218 593.5h1M226 580.5h1M216 590.5h1M222 587.5h1M213 584.5h1M223 583.5h1M221 577.5h1M210 584.5h1M213 588.5h1M224 576.5h1M215 592.5h1M222 593.5h1M212 587.5h1M230 578.5h1M211 595.5h1M201 592.5h1M210 601.5h1M202 599.5h1M211 597.5h1M203 593.5h1M213 592.5h1M219 592.5h1M218 598.5h1M207 592.5h1M215 595.5h1M246 558.5h1M248 554.5h1M245 560.5h1M244 562.5h1M239 562.5h1M238 560.5h1M249 559.5h1M241 576.5h1" stroke="#000" stroke-width="1" fill="none"/>
</g>
<rect x="171.90" y="510.80" width="99.30" height="99.40" fill="none" stroke="#9a9a9a" stroke-width="1"/>
<path d="M169.30 606.57H171.90M169.30 603.75H171.90M169.30 601.75H171.90M169.30 600.19H171.90M169.30 598.92H171.90M169.30 597.85H171.90M169.30 596.92H171.90M169.30 596.10H171.90M169.30 590.54H171.90M169.30 587.72H171.90M169.30 585.72H171.90M169.30 584.16H171.90M169.30 582.89H171.90M169.30 581.82H171.90M169.30 580.89H171.90M169.30 580.07H171.90M169.30 574.51H171.90M169.30 571.69H171.90M169.30 569.68H171.90M169.30 568.13H171.90M169.30 566.86H171.90M169.30 565.79H171.90M169.30 564.86H171.90M169.30 564.04H171.90M169.30 558.48H171.90M169.30 555.65H171.90M169.30 553.65H171.90M169.30 552.10H171.90M169.30 550.83H171.90M169.30 549.75H171.90M169.30 548.82H171.90M169.30 548.00H171.90M169.30 542.44H171.90M169.30 539.62H171.90M169.30 537.62H171.90M169.30 536.06H171.90M169.30 534.80H171.90M169.30 533.72H171.90M169.30 532.79H171.90M169.30 531.97H171.90M169.30 526.41H171.90M169.30 523.59H171.90M169.30 521.59H171.90M169.30 520.03H171.90M169.30 518.76H171.90M169.30 517.69H171.90M169.30 516.76H171.90M169.30 515.94H171.90" stroke="#7a7a7a" stroke-width="1.1"/>
<path d="M168.50 611.40H171.90M168.50 595.37H171.90M168.50 579.34H171.90M168.50 563.30H171.90M168.50 547.27H171.90M168.50 531.24H171.90M168.50 515.21H171.90" stroke="#222" stroke-width="1.6"/>
<path d="M176.73 610.20V612.60M179.55 610.20V612.60M181.55 610.20V612.60M183.11 610.20V612.60M184.38 610.20V612.60M185.45 610.20V612.60M186.38 610.20V612.60M187.20 610.20V612.60M192.76 610.20V612.60M195.58 610.20V612.60M197.58 610.20V612.60M199.14 610.20V612.60M200.41 610.20V612.60M201.48 610.20V612.60M202.41 610.20V612.60M203.23 610.20V612.60M208.79 610.20V612.60M211.61 610.20V612.60M213.62 610.20V612.60M215.17 610.20V612.60M216.44 610.20V612.60M217.51 610.20V612.60M218.44 610.20V612.60M219.26 610.20V612.60M224.82 610.20V612.60M227.65 610.20V612.60M229.65 610.20V612.60M231.20 610.20V612.60M232.47 610.20V612.60M233.55 610.20V612.60M234.48 610.20V612.60M235.30 610.20V612.60M240.86 610.20V612.60M243.68 610.20V612.60M245.68 610.20V612.60M247.24 610.20V612.60M248.50 610.20V612.60M249.58 610.20V612.60M250.51 610.20V612.60M251.33 610.20V612.60M256.89 610.20V612.60M259.71 610.20V612.60M261.71 610.20V612.60M263.27 610.20V612.60M264.54 610.20V612.60M265.61 610.20V612.60M266.54 610.20V612.60M267.36 610.20V612.60" stroke="#8a8a8a" stroke-width="1"/>
<path d="M171.90 610.20V613.00M187.93 610.20V613.00M203.96 610.20V613.00M220.00 610.20V613.00M236.03 610.20V613.00M252.06 610.20V613.00M268.09 610.20V613.00" stroke="#333" stroke-width="1.3"/>
<line x1="231.90" y1="510.80" x2="231.90" y2="610.20" stroke="#4a4a4a" stroke-width="1.9" />
<line x1="171.90" y1="564.80" x2="271.20" y2="564.80" stroke="#4a4a4a" stroke-width="1.9" />
<text transform="translate(172.42,518.00) scale(1.15,1)" font-size="6.0" font-weight="bold" fill="#1e1e1e">Q1-UL</text>
<text transform="translate(172.25,523.90) scale(1.15,1)" font-size="6.0" font-weight="bold" fill="#1e1e1e">1.4%</text>
<text transform="translate(249.58,518.00) scale(1.1500,1)" font-size="6.00" font-weight="bold" fill="#1e1e1e">Q1-UR</text>
<text transform="translate(249.61,523.90) scale(1.15,1)" font-size="6.0" font-weight="bold" fill="#1e1e1e">9.9%</text>
<text transform="translate(172.42,603.20) scale(1.15,1)" font-size="6.0" font-weight="bold" fill="#1e1e1e">Q1-LL</text>
<text transform="translate(172.46,609.00) scale(1.15,1)" font-size="6.0" font-weight="bold" fill="#1e1e1e">65.6%</text>
<text transform="translate(250.34,603.20) scale(1.1500,1)" font-size="6.00" font-weight="bold" fill="#1e1e1e">Q1-LR</text>
<text transform="translate(250.37,609.00) scale(1.15,1)" font-size="6.0" font-weight="bold" fill="#1e1e1e">23.1%</text>
<text transform="translate(221.66,558.90) scale(1.1500,1)" font-size="6.00" font-weight="bold" fill="#1e1e1e">Q1</text>
<text transform="translate(164.90,613.20) rotate(-75)" font-size="4.6" fill="#333">ω<tspan font-size="4" dy="-1.2">1</tspan></text>
<text transform="translate(169.70,618.80) rotate(-15)" font-size="4.6" fill="#333">ω<tspan font-size="4" dy="-1.2">1</tspan></text>
<text transform="translate(164.90,597.17) rotate(-75)" font-size="4.6" fill="#333">ω<tspan font-size="4" dy="-1.2">2</tspan></text>
<text transform="translate(185.73,618.80) rotate(-15)" font-size="4.6" fill="#333">ω<tspan font-size="4" dy="-1.2">2</tspan></text>
<text transform="translate(164.90,581.14) rotate(-75)" font-size="4.6" fill="#333">ω<tspan font-size="4" dy="-1.2">3</tspan></text>
<text transform="translate(201.76,618.80) rotate(-15)" font-size="4.6" fill="#333">ω<tspan font-size="4" dy="-1.2">3</tspan></text>
<text transform="translate(164.90,565.10) rotate(-75)" font-size="4.6" fill="#333">ω<tspan font-size="4" dy="-1.2">4</tspan></text>
<text transform="translate(217.80,618.80) rotate(-15)" font-size="4.6" fill="#333">ω<tspan font-size="4" dy="-1.2">4</tspan></text>
<text transform="translate(164.90,549.07) rotate(-75)" font-size="4.6" fill="#333">ω<tspan font-size="4" dy="-1.2">5</tspan></text>
<text transform="translate(233.83,618.80) rotate(-15)" font-size="4.6" fill="#333">ω<tspan font-size="4" dy="-1.2">5</tspan></text>
<text transform="translate(164.90,533.04) rotate(-75)" font-size="4.6" fill="#333">ω<tspan font-size="4" dy="-1.2">6</tspan></text>
<text transform="translate(249.86,618.80) rotate(-15)" font-size="4.6" fill="#333">ω<tspan font-size="4" dy="-1.2">6</tspan></text>
<text transform="translate(164.90,514.80) rotate(-75)" font-size="4.6" fill="#333">ω<tspan font-size="4" dy="-1.2">7.2</tspan></text>
<text transform="translate(269.00,618.80) rotate(-15)" font-size="4.6" fill="#333">ω<tspan font-size="4" dy="-1.2">7.2</tspan></text>
<text transform="translate(212.85,626.20) scale(1.0000,1)" font-size="6.00" font-weight="normal" fill="#333">FL1-A</text>
<text transform="translate(159.50,579.40) rotate(-90)" font-size="5.9" fill="#333">FL2-A</text>
<text transform="translate(310.52,501.70) scale(1.0000,1)" font-size="6.80" font-weight="normal" fill="#111">5μM PEITC MDA-MB-231</text>
<text transform="translate(336.03,509.10) scale(1.0000,1)" font-size="6.70" font-weight="normal" fill="#111">Gate: P1</text>
<g filter="url(#fb)">
<path d="M352 571.5h1M335 589.5h1M361 570.5h1M343 580.5h1M348 589.5h1M336 590.5h1M346 593.5h1M359 582.5h1M347 589.5h1M359 574.5h1M340 592.5h1M351 572.5h1M340 581.5h1M363 579.5h1M356 587.5h1M342 579.5h1M356 582.5h1M358 576.5h1M351 589.5h1M347 576.5h1M345 579.5h1M354 576.5h1M343 591.5h1M359 584.5h1M339 587.5h1M360 577.5h1M347 583.5h1M356 574.5h1M354 574.5h1M348 595.5h1M355 575.5h1M359 572.5h1M350 573.5h1M343 587.5h1M359 580.5h1M346 573.5h1M340 583.5h1M353 574.5h1M361 576.5h1M352 587.5h1M340 586.5h1M344 578.5h1M343 575.5h1M353 573.5h1M350 591.5h1M347 575.5h1M353 577.5h1M340 600.5h1M357 572.5h1M341 593.5h1M354 586.5h1M339 579.5h1M348 591.5h1M357 585.5h1M353 585.5h1M352 568.5h1M357 582.5h1M351 592.5h1M341 586.5h1M343 581.5h1M349 591.5h1M356 571.5h1M359 575.5h1M354 575.5h1M340 588.5h1M339 583.5h1M335 592.5h1M361 580.5h1M338 584.5h1M358 581.5h1M339 588.5h1M349 595.5h1M344 577.5h1M357 584.5h1M339 581.5h1M338 585.5h1M337 586.5h1M349 589.5h1M340 582.5h1M352 597.5h1M342 576.5h1M344 589.5h1M356 584.5h1M340 584.5h1M357 576.5h1M343 578.5h1M358 573.5h1M355 577.5h1M348 574.5h1M342 592.5h1M363 573.5h1M345 575.5h1M357 588.5h1M338 581.5h1M346 592.5h1M336 585.5h1M324 589.5h1M349 602.5h1M351 599.5h1M325 585.5h1M330 594.5h1M361 588.5h1M346 602.5h1M326 585.5h1M312 598.5h1M324 603.5h1M336 597.5h1M360 586.5h1M337 590.5h1M345 599.5h1M354 595.5h1M333 608.5h1M337 596.5h1M337 594.5h1M350 593.5h1M328 585.5h1M340 593.5h1M355 601.5h1M328 595.5h1M332 584.5h1M314 597.5h1M332 605.5h1M335 595.5h1M330 597.5h1M335 591.5h1M319 598.5h1M336 598.5h1M339 589.5h1M349 604.5h1M338 598.5h1M321 597.5h1M355 592.5h1M339 585.5h1M339 601.5h1M342 605.5h1M331 588.5h1M324 600.5h1M327 595.5h1M335 588.5h1M332 586.5h1M358 598.5h1M330 587.5h1M335 600.5h1M365 585.5h1M327 598.5h1M343 604.5h1M353 590.5h1M323 587.5h1M331 584.5h1M327 586.5h1M351 598.5h1M319 590.5h1M342 597.5h1M326 589.5h1M352 588.5h1M324 590.5h1M337 604.5h1M322 605.5h1M327 593.5h1M352 590.5h1M338 600.5h1M347 603.5h1M342 596.5h1M332 603.5h1M337 576.5h1M359 592.5h1M337 583.5h1M339 602.5h1M355 593.5h1M343 602.5h1M324 601.5h1M325 593.5h1M329 583.5h1M353 597.5h1M342 599.5h1M324 605.5h1M356 594.5h1M363 586.5h1M328 593.5h1M342 594.5h1M340 604.5h1M325 591.5h1M345 603.5h1M329 600.5h1M357 599.5h1M333 599.5h1M345 595.5h1M338 592.5h1M328 596.5h1M339 603.5h1M352 572.5h1M344 594.5h1M326 590.5h1M325 592.5h1M354 601.5h1M333 601.5h1M350 604.5h1M347 605.5h1M327 589.5h1M324 598.5h1M323 602.5h1M338 589.5h1M327 590.5h1M338 595.5h1M333 596.5h1M331 596.5h1M359 597.5h1M338 602.5h1M324 602.5h1M343 599.5h1M328 607.5h1M347 592.5h1M340 589.5h1M331 595.5h1M328 586.5h1M330 592.5h1M341 583.5h1M344 593.5h1M326 597.5h1M327 596.5h1M335 599.5h1M339 591.5h1M333 575.5h1M350 598.5h1M330 606.5h1M356 605.5h1M339 596.5h1M347 601.5h1M352 591.5h1M332 596.5h1M325 599.5h1M333 588.5h1M337 599.5h1M334 590.5h1M366 591.5h1M326 599.5h1M343 592.5h1M363 588.5h1M332 595.5h1M348 603.5h1M346 606.5h1M336 600.5h1M329 603.5h1M340 609.5h1M334 596.5h1M321 588.5h1M310 599.5h1M351 590.5h1M348 592.5h1M338 597.5h1M334 594.5h1M324 596.5h1M349 596.5h1M329 602.5h1M323 598.5h1M338 587.5h1M326 603.5h1M335 606.5h1M338 591.5h1M329 592.5h1M344 598.5h1M349 593.5h1M353 600.5h1M332 602.5h1M332 594.5h1M343 598.5h1M347 597.5h1M331 585.5h1M355 590.5h1M358 585.5h1M341 579.5h1M329 604.5h1M336 589.5h1M346 595.5h1M361 590.5h1M353 592.5h1M324 593.5h1M329 591.5h1M327 608.5h1M357 587.5h1M330 586.5h1M347 607.5h1M347 596.5h1M335 594.5h1M320 582.5h1M340 601.5h1M324 585.5h1M373 557.5h1M375 553.5h1M376 547.5h1M370 550.5h1M380 552.5h1M357 555.5h1M376 563.5h1M384 560.5h1M376 555.5h1M384 556.5h1M380 557.5h1M381 550.5h1M374 557.5h1M387 567.5h1M383 550.5h1M369 557.5h1M375 555.5h1M376 557.5h1M361 555.5h1M375 557.5h1M375 548.5h1M389 544.5h1M379 566.5h1M364 562.5h1M368 553.5h1M379 562.5h1M373 561.5h1M370 557.5h1M366 560.5h1M354 555.5h1M368 552.5h1M381 547.5h1M368 566.5h1M365 561.5h1M386 549.5h1M380 559.5h1M369 545.5h1M371 552.5h1M371 566.5h1M368 563.5h1M377 564.5h1M361 562.5h1M364 550.5h1M373 560.5h1M356 550.5h1M383 558.5h1M376 565.5h1M370 568.5h1M369 565.5h1M376 553.5h1M382 556.5h1M369 554.5h1M376 564.5h1M375 551.5h1M360 558.5h1M378 553.5h1M382 564.5h1M373 550.5h1M370 558.5h1M383 559.5h1M372 564.5h1M361 565.5h1M366 563.5h1M385 559.5h1M363 558.5h1M376 558.5h1M383 553.5h1M370 552.5h1M375 559.5h1M373 555.5h1M370 551.5h1M366 547.5h1M380 546.5h1M387 547.5h1M383 547.5h1M388 553.5h1M366 565.5h1M367 551.5h1M368 554.5h1M361 549.5h1M378 557.5h1M381 560.5h1M378 555.5h1M368 562.5h1M381 555.5h1M370 549.5h1M384 552.5h1M371 555.5h1M368 558.5h1M376 552.5h1M362 549.5h1M372 556.5h1M376 560.5h1M394 561.5h1M378 552.5h1M368 568.5h1M362 553.5h1M386 561.5h1M373 558.5h1M381 552.5h1M357 557.5h1M380 564.5h1M367 559.5h1M379 557.5h1M377 548.5h1M370 559.5h1M372 562.5h1M366 554.5h1M382 571.5h1M373 554.5h1M373 564.5h1M374 568.5h1M362 557.5h1M375 549.5h1M368 557.5h1M376 551.5h1M374 549.5h1M378 544.5h1M373 565.5h1M380 549.5h1M382 553.5h1M379 547.5h1M376 548.5h1M366 558.5h1M362 545.5h1M367 555.5h1M379 543.5h1M385 560.5h1M374 553.5h1M377 553.5h1M371 550.5h1M377 555.5h1M379 564.5h1M382 565.5h1M370 555.5h1M385 562.5h1M375 541.5h1M373 549.5h1M370 569.5h1M377 550.5h1M366 552.5h1M389 559.5h1M370 556.5h1M375 550.5h1M383 552.5h1M373 571.5h1M369 581.5h1M361 575.5h1M371 567.5h1M371 583.5h1M364 577.5h1M365 572.5h1M365 570.5h1M370 581.5h1M374 571.5h1M363 578.5h1M366 576.5h1M369 585.5h1M361 582.5h1M365 592.5h1M375 584.5h1M365 568.5h1M364 583.5h1M366 571.5h1M371 577.5h1M365 584.5h1M376 587.5h1M368 584.5h1M371 568.5h1M357 573.5h1M379 586.5h1M372 581.5h1M360 571.5h1M374 583.5h1M362 563.5h1M366 584.5h1M365 564.5h1M376 579.5h1M358 574.5h1M360 574.5h1M371 590.5h1M361 568.5h1M360 582.5h1M369 579.5h1M363 568.5h1M369 572.5h1M371 582.5h1M366 586.5h1M368 564.5h1M366 589.5h1M372 573.5h1M366 577.5h1M375 573.5h1M364 556.5h1M365 582.5h1M363 570.5h1M367 557.5h1M360 576.5h1M359 563.5h1M360 598.5h1M360 555.5h1M369 567.5h1M360 570.5h1M366 583.5h1M370 579.5h1M372 593.5h1M370 590.5h1M358 566.5h1M375 585.5h1M367 580.5h1M365 566.5h1M377 576.5h1M367 592.5h1M373 574.5h1M367 577.5h1M363 571.5h1M368 589.5h1M373 584.5h1M365 575.5h1M371 578.5h1M374 580.5h1M367 573.5h1M364 572.5h1M368 587.5h1M370 573.5h1M378 573.5h1M363 572.5h1M359 566.5h1M369 570.5h1M373 583.5h1M364 573.5h1M363 589.5h1M368 565.5h1M369 573.5h1M371 573.5h1M362 586.5h1M363 583.5h1M357 574.5h1M358 567.5h1M371 562.5h1M382 575.5h1M360 565.5h1M364 575.5h1M371 574.5h1" stroke="#888" stroke-width="1" fill="none"/>
<path d="M342 580.5h1M350 590.5h1M349 588.5h1M337 593.5h1M346 575.5h1M348 590.5h1M355 585.5h1M352 577.5h1M356 578.5h1M353 576.5h1M346 577.5h1M356 575.5h1M354 582.5h1M345 583.5h1M357 575.5h1M345 592.5h1M355 576.5h1M357 578.5h1M354 581.5h1M354 578.5h1M356 576.5h1M343 577.5h1M358 575.5h1M346 576.5h1M342 587.5h1M340 591.5h1M355 582.5h1M342 582.5h1M353 588.5h1M351 575.5h1M354 585.5h1M354 589.5h1M338 590.5h1M340 579.5h1M354 579.5h1M351 576.5h1M337 589.5h1M358 580.5h1M347 580.5h1M341 580.5h1M359 581.5h1M335 593.5h1M340 585.5h1M345 594.5h1M345 591.5h1M360 581.5h1M347 594.5h1M332 588.5h1M344 591.5h1M348 593.5h1M352 595.5h1M325 596.5h1M340 596.5h1M328 594.5h1M362 593.5h1M336 601.5h1M331 589.5h1M351 595.5h1M356 590.5h1M337 598.5h1M352 594.5h1M342 601.5h1M328 584.5h1M352 592.5h1M336 602.5h1M337 587.5h1M338 594.5h1M353 596.5h1M322 600.5h1M338 580.5h1M334 601.5h1M328 590.5h1M341 597.5h1M320 591.5h1M334 598.5h1M357 577.5h1M341 594.5h1M327 599.5h1M336 593.5h1M350 595.5h1M343 594.5h1M330 582.5h1M347 595.5h1M332 592.5h1M353 589.5h1M334 587.5h1M331 605.5h1M380 553.5h1M372 560.5h1M366 561.5h1M379 559.5h1M367 552.5h1M380 551.5h1M372 558.5h1M372 553.5h1M365 552.5h1M372 559.5h1M378 559.5h1M375 552.5h1M367 554.5h1M376 559.5h1M369 552.5h1M373 559.5h1M372 554.5h1M383 557.5h1M374 562.5h1M369 551.5h1M374 556.5h1M380 554.5h1M379 556.5h1M381 553.5h1M371 557.5h1M375 563.5h1M374 561.5h1M381 559.5h1M367 558.5h1M374 555.5h1M372 567.5h1M366 564.5h1M364 574.5h1M366 574.5h1M364 584.5h1M368 585.5h1M362 575.5h1M368 570.5h1M367 571.5h1M372 579.5h1M359 565.5h1M371 572.5h1M368 573.5h1M367 583.5h1M362 584.5h1M365 586.5h1M366 570.5h1" stroke="#444" stroke-width="1" fill="none"/>
<path d="M353 584.5h1M347 586.5h1M344 580.5h1M341 591.5h1M345 581.5h1M346 587.5h1M350 583.5h1M344 581.5h1M349 585.5h1M342 585.5h1M350 587.5h1M352 583.5h1M352 579.5h1M346 581.5h1M356 579.5h1M353 583.5h1M350 586.5h1M355 574.5h1M348 584.5h1M353 580.5h1M345 586.5h1M350 578.5h1M347 577.5h1M349 583.5h1M348 578.5h1M345 587.5h1M345 593.5h1M347 579.5h1M349 587.5h1M352 586.5h1M349 584.5h1M355 579.5h1M351 580.5h1M346 579.5h1M351 577.5h1M343 585.5h1M346 583.5h1M348 581.5h1M348 577.5h1M348 579.5h1M346 588.5h1M350 579.5h1M343 593.5h1M349 578.5h1M341 592.5h1M349 581.5h1M342 586.5h1M348 583.5h1M347 585.5h1M341 589.5h1M353 582.5h1M350 576.5h1M348 580.5h1M346 586.5h1M344 585.5h1M347 588.5h1M353 578.5h1M341 587.5h1M345 578.5h1M341 588.5h1M355 580.5h1M353 581.5h1M353 586.5h1M351 588.5h1M354 583.5h1M351 586.5h1M351 581.5h1M352 584.5h1M348 587.5h1M356 581.5h1M354 580.5h1M343 588.5h1M343 584.5h1M350 580.5h1M351 585.5h1M347 590.5h1M346 582.5h1M355 578.5h1M344 582.5h1M347 578.5h1M347 584.5h1M345 584.5h1M345 589.5h1M347 582.5h1M348 582.5h1M344 590.5h1M346 584.5h1M349 577.5h1M348 586.5h1M352 581.5h1M353 575.5h1M340 590.5h1M348 576.5h1M352 585.5h1M350 585.5h1M345 580.5h1M344 584.5h1M352 578.5h1M348 588.5h1M343 583.5h1M345 588.5h1M349 579.5h1M354 587.5h1M351 584.5h1M349 586.5h1M352 582.5h1M353 579.5h1M347 581.5h1M351 587.5h1M344 587.5h1M341 590.5h1M349 582.5h1M354 584.5h1M345 582.5h1M347 587.5h1M341 584.5h1M346 580.5h1M339 582.5h1M342 584.5h1M345 585.5h1M351 582.5h1M348 585.5h1M343 595.5h1M343 582.5h1M339 586.5h1M344 583.5h1M354 577.5h1M346 589.5h1M351 579.5h1M350 581.5h1M342 588.5h1M350 577.5h1M346 578.5h1M349 590.5h1M334 592.5h1M341 585.5h1M352 574.5h1M356 580.5h1M355 583.5h1M350 582.5h1M337 591.5h1M349 580.5h1M352 575.5h1M350 589.5h1M351 578.5h1M345 590.5h1M355 584.5h1M343 590.5h1M357 583.5h1M357 581.5h1M352 580.5h1M340 587.5h1M349 576.5h1M344 588.5h1M356 577.5h1M350 584.5h1M355 581.5h1M350 592.5h1M350 588.5h1M356 585.5h1M338 586.5h1M344 586.5h1M346 585.5h1M347 591.5h1M342 583.5h1M343 589.5h1M346 591.5h1M339 584.5h1M344 579.5h1M342 593.5h1M352 576.5h1M350 574.5h1M343 586.5h1M342 591.5h1M338 596.5h1M351 583.5h1M330 591.5h1M368 579.5h1M337 592.5h1M344 595.5h1M341 595.5h1M337 597.5h1M348 600.5h1M369 559.5h1M370 560.5h1M377 556.5h1M374 559.5h1M371 556.5h1M365 548.5h1M368 556.5h1M374 566.5h1M377 552.5h1M378 561.5h1M369 558.5h1M374 563.5h1" stroke="#000" stroke-width="1" fill="none"/>
</g>
<rect x="300.70" y="511.30" width="99.50" height="99.30" fill="none" stroke="#9a9a9a" stroke-width="1"/>
<path d="M298.10 606.98H300.70M298.10 604.16H300.70M298.10 602.16H300.70M298.10 600.61H300.70M298.10 599.34H300.70M298.10 598.26H300.70M298.10 597.34H300.70M298.10 596.52H300.70M298.10 590.96H300.70M298.10 588.14H300.70M298.10 586.14H300.70M298.10 584.59H300.70M298.10 583.32H300.70M298.10 582.25H300.70M298.10 581.32H300.70M298.10 580.50H300.70M298.10 574.95H300.70M298.10 572.13H300.70M298.10 570.13H300.70M298.10 568.57H300.70M298.10 567.30H300.70M298.10 566.23H300.70M298.10 565.30H300.70M298.10 564.48H300.70M298.10 558.93H300.70M298.10 556.11H300.70M298.10 554.11H300.70M298.10 552.56H300.70M298.10 551.29H300.70M298.10 550.22H300.70M298.10 549.29H300.70M298.10 548.47H300.70M298.10 542.91H300.70M298.10 540.09H300.70M298.10 538.09H300.70M298.10 536.54H300.70M298.10 535.27H300.70M298.10 534.20H300.70M298.10 533.27H300.70M298.10 532.45H300.70M298.10 526.90H300.70M298.10 524.08H300.70M298.10 522.08H300.70M298.10 520.52H300.70M298.10 519.26H300.70M298.10 518.18H300.70M298.10 517.26H300.70M298.10 516.44H300.70" stroke="#7a7a7a" stroke-width="1.1"/>
<path d="M297.30 611.80H300.70M297.30 595.78H300.70M297.30 579.77H300.70M297.30 563.75H300.70M297.30 547.74H300.70M297.30 531.72H300.70M297.30 515.70H300.70" stroke="#222" stroke-width="1.6"/>
<path d="M305.52 610.60V613.00M308.34 610.60V613.00M310.34 610.60V613.00M311.89 610.60V613.00M313.16 610.60V613.00M314.24 610.60V613.00M315.16 610.60V613.00M315.98 610.60V613.00M321.54 610.60V613.00M324.36 610.60V613.00M326.36 610.60V613.00M327.91 610.60V613.00M329.18 610.60V613.00M330.25 610.60V613.00M331.18 610.60V613.00M332.00 610.60V613.00M337.55 610.60V613.00M340.37 610.60V613.00M342.37 610.60V613.00M343.93 610.60V613.00M345.20 610.60V613.00M346.27 610.60V613.00M347.20 610.60V613.00M348.02 610.60V613.00M353.57 610.60V613.00M356.39 610.60V613.00M358.39 610.60V613.00M359.94 610.60V613.00M361.21 610.60V613.00M362.28 610.60V613.00M363.21 610.60V613.00M364.03 610.60V613.00M369.59 610.60V613.00M372.41 610.60V613.00M374.41 610.60V613.00M375.96 610.60V613.00M377.23 610.60V613.00M378.30 610.60V613.00M379.23 610.60V613.00M380.05 610.60V613.00M385.60 610.60V613.00M388.42 610.60V613.00M390.42 610.60V613.00M391.98 610.60V613.00M393.24 610.60V613.00M394.32 610.60V613.00M395.24 610.60V613.00M396.06 610.60V613.00" stroke="#8a8a8a" stroke-width="1"/>
<path d="M300.70 610.60V613.40M316.72 610.60V613.40M332.73 610.60V613.40M348.75 610.60V613.40M364.76 610.60V613.40M380.78 610.60V613.40M396.80 610.60V613.40" stroke="#333" stroke-width="1.3"/>
<line x1="360.70" y1="511.30" x2="360.70" y2="610.60" stroke="#4a4a4a" stroke-width="1.9" />
<line x1="300.70" y1="565.30" x2="400.20" y2="565.30" stroke="#4a4a4a" stroke-width="1.9" />
<text transform="translate(301.22,518.50) scale(1.15,1)" font-size="6.0" font-weight="bold" fill="#1e1e1e">Q1-UL</text>
<text transform="translate(301.05,524.40) scale(1.15,1)" font-size="6.0" font-weight="bold" fill="#1e1e1e">1.1%</text>
<text transform="translate(378.58,518.50) scale(1.1500,1)" font-size="6.00" font-weight="bold" fill="#1e1e1e">Q1-UR</text>
<text transform="translate(378.41,524.40) scale(1.15,1)" font-size="6.0" font-weight="bold" fill="#1e1e1e">10.3%</text>
<text transform="translate(301.22,603.60) scale(1.15,1)" font-size="6.0" font-weight="bold" fill="#1e1e1e">Q1-LL</text>
<text transform="translate(301.26,609.40) scale(1.15,1)" font-size="6.0" font-weight="bold" fill="#1e1e1e">61.0%</text>
<text transform="translate(379.34,603.60) scale(1.1500,1)" font-size="6.00" font-weight="bold" fill="#1e1e1e">Q1-LR</text>
<text transform="translate(379.37,609.40) scale(1.15,1)" font-size="6.0" font-weight="bold" fill="#1e1e1e">27.6%</text>
<text transform="translate(350.46,559.40) scale(1.1500,1)" font-size="6.00" font-weight="bold" fill="#1e1e1e">Q1</text>
<text transform="translate(293.70,613.60) rotate(-75)" font-size="4.6" fill="#333">ω<tspan font-size="4" dy="-1.2">1</tspan></text>
<text transform="translate(298.50,619.20) rotate(-15)" font-size="4.6" fill="#333">ω<tspan font-size="4" dy="-1.2">1</tspan></text>
<text transform="translate(293.70,597.58) rotate(-75)" font-size="4.6" fill="#333">ω<tspan font-size="4" dy="-1.2">2</tspan></text>
<text transform="translate(314.52,619.20) rotate(-15)" font-size="4.6" fill="#333">ω<tspan font-size="4" dy="-1.2">2</tspan></text>
<text transform="translate(293.70,581.57) rotate(-75)" font-size="4.6" fill="#333">ω<tspan font-size="4" dy="-1.2">3</tspan></text>
<text transform="translate(330.53,619.20) rotate(-15)" font-size="4.6" fill="#333">ω<tspan font-size="4" dy="-1.2">3</tspan></text>
<text transform="translate(293.70,565.55) rotate(-75)" font-size="4.6" fill="#333">ω<tspan font-size="4" dy="-1.2">4</tspan></text>
<text transform="translate(346.55,619.20) rotate(-15)" font-size="4.6" fill="#333">ω<tspan font-size="4" dy="-1.2">4</tspan></text>
<text transform="translate(293.70,549.54) rotate(-75)" font-size="4.6" fill="#333">ω<tspan font-size="4" dy="-1.2">5</tspan></text>
<text transform="translate(362.56,619.20) rotate(-15)" font-size="4.6" fill="#333">ω<tspan font-size="4" dy="-1.2">5</tspan></text>
<text transform="translate(293.70,533.52) rotate(-75)" font-size="4.6" fill="#333">ω<tspan font-size="4" dy="-1.2">6</tspan></text>
<text transform="translate(378.58,619.20) rotate(-15)" font-size="4.6" fill="#333">ω<tspan font-size="4" dy="-1.2">6</tspan></text>
<text transform="translate(293.70,515.30) rotate(-75)" font-size="4.6" fill="#333">ω<tspan font-size="4" dy="-1.2">7.2</tspan></text>
<text transform="translate(398.00,619.20) rotate(-15)" font-size="4.6" fill="#333">ω<tspan font-size="4" dy="-1.2">7.2</tspan></text>
<text transform="translate(341.75,626.60) scale(1.0000,1)" font-size="6.00" font-weight="normal" fill="#333">FL1-A</text>
<text transform="translate(288.30,579.90) rotate(-90)" font-size="5.9" fill="#333">FL2-A</text>
<text transform="translate(437.84,501.00) scale(1.0000,1)" font-size="6.80" font-weight="normal" fill="#111">10μM PEITC MDA-MB-231</text>
<text transform="translate(465.38,508.40) scale(1.0000,1)" font-size="6.70" font-weight="normal" fill="#111">Gate: P1</text>
<g filter="url(#fb)">
<path d="M472 567.5h1M475 575.5h1M486 586.5h1M484 595.5h1M471 579.5h1M485 577.5h1M483 590.5h1M489 586.5h1M481 573.5h1M473 596.5h1M488 588.5h1M474 578.5h1M488 583.5h1M482 580.5h1M484 586.5h1M487 574.5h1M474 573.5h1M478 575.5h1M478 574.5h1M474 592.5h1M470 585.5h1M488 579.5h1M474 593.5h1M485 589.5h1M483 588.5h1M479 572.5h1M487 580.5h1M475 576.5h1M480 574.5h1M487 587.5h1M472 579.5h1M482 573.5h1M482 591.5h1M478 592.5h1M487 584.5h1M467 585.5h1M465 588.5h1M468 583.5h1M469 591.5h1M479 574.5h1M482 576.5h1M481 571.5h1M475 577.5h1M472 578.5h1M487 589.5h1M482 579.5h1M476 572.5h1M470 583.5h1M485 582.5h1M471 588.5h1M477 576.5h1M470 580.5h1M472 580.5h1M482 586.5h1M485 575.5h1M476 575.5h1M476 574.5h1M484 591.5h1M475 595.5h1M487 583.5h1M484 578.5h1M476 576.5h1M479 592.5h1M473 576.5h1M479 593.5h1M485 578.5h1M470 588.5h1M488 585.5h1M465 582.5h1M476 571.5h1M487 577.5h1M477 569.5h1M470 587.5h1M469 587.5h1M489 581.5h1M470 578.5h1M486 582.5h1M483 572.5h1M476 577.5h1M487 582.5h1M469 589.5h1M449 606.5h1M468 600.5h1M451 598.5h1M490 591.5h1M464 597.5h1M491 589.5h1M458 604.5h1M467 584.5h1M450 596.5h1M457 601.5h1M464 584.5h1M479 600.5h1M477 608.5h1M480 608.5h1M485 595.5h1M469 602.5h1M466 592.5h1M470 597.5h1M454 597.5h1M464 587.5h1M450 599.5h1M504 600.5h1M465 590.5h1M463 608.5h1M475 598.5h1M461 593.5h1M481 602.5h1M465 591.5h1M465 586.5h1M442 604.5h1M462 590.5h1M465 597.5h1M478 596.5h1M474 596.5h1M481 596.5h1M467 593.5h1M458 596.5h1M469 582.5h1M434 605.5h1M451 587.5h1M459 600.5h1M466 591.5h1M466 602.5h1M468 593.5h1M468 602.5h1M479 594.5h1M474 601.5h1M482 599.5h1M477 601.5h1M455 583.5h1M470 581.5h1M483 605.5h1M461 582.5h1M458 589.5h1M469 597.5h1M454 598.5h1M473 601.5h1M467 587.5h1M459 603.5h1M471 577.5h1M471 602.5h1M460 591.5h1M438 595.5h1M470 606.5h1M465 600.5h1M458 594.5h1M465 603.5h1M467 595.5h1M462 581.5h1M448 600.5h1M478 603.5h1M460 597.5h1M492 585.5h1M489 589.5h1M492 587.5h1M469 595.5h1M486 592.5h1M465 599.5h1M463 594.5h1M467 596.5h1M473 602.5h1M470 598.5h1M470 599.5h1M484 602.5h1M467 598.5h1M464 590.5h1M466 596.5h1M454 591.5h1M453 600.5h1M464 596.5h1M468 597.5h1M452 597.5h1M488 597.5h1M465 606.5h1M492 592.5h1M469 598.5h1M458 598.5h1M465 598.5h1M460 604.5h1M449 592.5h1M477 603.5h1M452 600.5h1M467 588.5h1M460 600.5h1M454 607.5h1M469 575.5h1M455 594.5h1M461 594.5h1M468 594.5h1M475 596.5h1M467 592.5h1M459 595.5h1M483 602.5h1M455 589.5h1M459 591.5h1M460 593.5h1M482 593.5h1M464 593.5h1M479 597.5h1M469 605.5h1M454 605.5h1M476 599.5h1M457 605.5h1M469 599.5h1M492 597.5h1M460 598.5h1M490 592.5h1M477 607.5h1M467 591.5h1M478 600.5h1M468 582.5h1M463 593.5h1M471 597.5h1M462 591.5h1M460 592.5h1M467 597.5h1M488 598.5h1M463 592.5h1M481 598.5h1M471 592.5h1M474 594.5h1M480 593.5h1M467 602.5h1M481 597.5h1M457 604.5h1M455 596.5h1M460 602.5h1M455 593.5h1M465 593.5h1M487 594.5h1M455 588.5h1M465 607.5h1M475 604.5h1M466 594.5h1M444 595.5h1M473 589.5h1M461 601.5h1M474 604.5h1M469 577.5h1M457 594.5h1M460 601.5h1M480 601.5h1M467 604.5h1M460 595.5h1M461 604.5h1M451 608.5h1M488 595.5h1M479 602.5h1M466 581.5h1M466 582.5h1M469 601.5h1M479 598.5h1M459 586.5h1M454 596.5h1M460 599.5h1M466 586.5h1M462 597.5h1M458 597.5h1M474 599.5h1M501 554.5h1M509 565.5h1M495 555.5h1M494 556.5h1M503 566.5h1M510 560.5h1M500 557.5h1M507 569.5h1M505 557.5h1M511 554.5h1M505 546.5h1M512 569.5h1M497 554.5h1M498 563.5h1M514 562.5h1M497 555.5h1M498 553.5h1M506 548.5h1M498 557.5h1M505 572.5h1M496 565.5h1M508 559.5h1M501 556.5h1M499 568.5h1M507 554.5h1M509 562.5h1M501 553.5h1M492 562.5h1M494 551.5h1M495 549.5h1M511 564.5h1M501 562.5h1M493 550.5h1M511 559.5h1M502 550.5h1M505 558.5h1M514 558.5h1M502 548.5h1M506 552.5h1M513 555.5h1M498 559.5h1M514 557.5h1M511 563.5h1M503 556.5h1M511 565.5h1M511 567.5h1M499 567.5h1M491 563.5h1M500 554.5h1M511 558.5h1M498 566.5h1M498 552.5h1M503 544.5h1M497 565.5h1M500 569.5h1M512 557.5h1M510 559.5h1M514 565.5h1M505 555.5h1M509 552.5h1M514 553.5h1M505 568.5h1M510 562.5h1M504 552.5h1M505 549.5h1M515 560.5h1M499 550.5h1M506 556.5h1M517 559.5h1M500 559.5h1M492 569.5h1M499 564.5h1M505 566.5h1M493 562.5h1M508 548.5h1M512 567.5h1M500 548.5h1M506 563.5h1M496 558.5h1M495 553.5h1M486 562.5h1M493 555.5h1M506 562.5h1M503 546.5h1M515 557.5h1M497 567.5h1M516 554.5h1M498 568.5h1M497 562.5h1M487 559.5h1M511 555.5h1M511 571.5h1M509 570.5h1M502 554.5h1M496 559.5h1M491 558.5h1M514 574.5h1M496 561.5h1M510 566.5h1M496 571.5h1M516 548.5h1M507 552.5h1M508 557.5h1M497 553.5h1M502 556.5h1M498 558.5h1M514 547.5h1M506 549.5h1M511 556.5h1M518 569.5h1M513 556.5h1M494 552.5h1M499 554.5h1M502 540.5h1M496 554.5h1M508 567.5h1M507 571.5h1M508 555.5h1M500 556.5h1M516 550.5h1M500 545.5h1M497 559.5h1M512 558.5h1M512 561.5h1M505 564.5h1M494 558.5h1M511 553.5h1M502 565.5h1M498 548.5h1M517 542.5h1M511 538.5h1M496 564.5h1M499 546.5h1M508 553.5h1M510 563.5h1M502 557.5h1M497 550.5h1M501 552.5h1M500 570.5h1M513 547.5h1M500 566.5h1M507 558.5h1M496 551.5h1M519 565.5h1M497 568.5h1M500 581.5h1M487 567.5h1M495 588.5h1M493 570.5h1M486 560.5h1M488 564.5h1M506 592.5h1M492 591.5h1M491 572.5h1M500 582.5h1M504 568.5h1M506 575.5h1M492 574.5h1M495 585.5h1M504 575.5h1M499 577.5h1M506 550.5h1M509 577.5h1M491 587.5h1M497 564.5h1M493 584.5h1M494 578.5h1M496 581.5h1M485 573.5h1M504 577.5h1M497 572.5h1M492 583.5h1M498 580.5h1M487 590.5h1M499 582.5h1M491 578.5h1M491 573.5h1M502 576.5h1M489 574.5h1M498 595.5h1M490 579.5h1M501 584.5h1M500 579.5h1M497 571.5h1M497 587.5h1M493 580.5h1M489 585.5h1M506 572.5h1M498 573.5h1M496 562.5h1M494 587.5h1M498 582.5h1M491 570.5h1M495 571.5h1M490 580.5h1M498 570.5h1M493 582.5h1M494 582.5h1M493 595.5h1M497 578.5h1M495 581.5h1M495 576.5h1M498 584.5h1M501 585.5h1M493 573.5h1M491 588.5h1M492 580.5h1M496 595.5h1M498 590.5h1M513 584.5h1M491 590.5h1M499 574.5h1M498 577.5h1M501 571.5h1M496 576.5h1M493 587.5h1M500 572.5h1M491 574.5h1M499 594.5h1M504 570.5h1M504 567.5h1M500 583.5h1M503 568.5h1M502 572.5h1M505 588.5h1M505 586.5h1M504 579.5h1M497 588.5h1M502 585.5h1M505 577.5h1M506 561.5h1M502 589.5h1M502 582.5h1M508 594.5h1M507 579.5h1M498 578.5h1M507 589.5h1M502 569.5h1M505 575.5h1M509 572.5h1M508 582.5h1M506 588.5h1M503 575.5h1M497 579.5h1M505 581.5h1M500 564.5h1M501 574.5h1M507 575.5h1M501 603.5h1M504 572.5h1M503 585.5h1M503 584.5h1M504 591.5h1M500 577.5h1M506 573.5h1M500 576.5h1M500 573.5h1M504 574.5h1M500 580.5h1M504 565.5h1M508 576.5h1M504 569.5h1M500 567.5h1M505 562.5h1M506 582.5h1M505 571.5h1M504 576.5h1M503 578.5h1M503 599.5h1M500 591.5h1" stroke="#888" stroke-width="1" fill="none"/>
<path d="M481 591.5h1M480 575.5h1M486 577.5h1M469 588.5h1M480 577.5h1M471 582.5h1M486 580.5h1M484 574.5h1M475 578.5h1M474 575.5h1M485 583.5h1M477 577.5h1M480 591.5h1M481 589.5h1M473 598.5h1M486 584.5h1M469 583.5h1M481 577.5h1M473 591.5h1M480 576.5h1M485 587.5h1M485 574.5h1M472 592.5h1M483 586.5h1M473 587.5h1M463 589.5h1M478 593.5h1M467 589.5h1M478 573.5h1M474 589.5h1M472 581.5h1M471 596.5h1M481 576.5h1M476 593.5h1M483 591.5h1M483 575.5h1M477 573.5h1M485 580.5h1M470 589.5h1M470 595.5h1M472 587.5h1M464 591.5h1M468 592.5h1M483 582.5h1M475 594.5h1M471 590.5h1M482 575.5h1M474 595.5h1M484 588.5h1M470 586.5h1M473 592.5h1M469 585.5h1M472 582.5h1M471 591.5h1M471 594.5h1M471 589.5h1M468 587.5h1M477 596.5h1M489 588.5h1M477 594.5h1M466 599.5h1M477 598.5h1M464 599.5h1M475 607.5h1M473 595.5h1M470 592.5h1M462 598.5h1M469 594.5h1M477 595.5h1M467 605.5h1M461 595.5h1M463 590.5h1M469 586.5h1M472 595.5h1M476 594.5h1M466 590.5h1M456 593.5h1M465 594.5h1M461 596.5h1M478 594.5h1M471 581.5h1M468 605.5h1M474 602.5h1M472 596.5h1M459 597.5h1M445 604.5h1M498 561.5h1M500 561.5h1M510 557.5h1M503 560.5h1M497 556.5h1M512 560.5h1M499 560.5h1M506 564.5h1M507 556.5h1M504 557.5h1M509 553.5h1M505 567.5h1M502 552.5h1M501 566.5h1M505 552.5h1M508 565.5h1M505 560.5h1M495 560.5h1M504 564.5h1M509 555.5h1M502 562.5h1M505 559.5h1M497 552.5h1M507 562.5h1M509 568.5h1M508 568.5h1M497 561.5h1M499 563.5h1M499 558.5h1M502 564.5h1M503 549.5h1M494 567.5h1M502 553.5h1M503 553.5h1M504 559.5h1M509 558.5h1M503 552.5h1M504 555.5h1M509 566.5h1M504 556.5h1M506 557.5h1M495 564.5h1M494 555.5h1M506 553.5h1M501 563.5h1M512 563.5h1M495 561.5h1M498 565.5h1M500 565.5h1M493 558.5h1M505 563.5h1M510 564.5h1M508 563.5h1M489 576.5h1M501 582.5h1M494 591.5h1M494 573.5h1M494 579.5h1M495 586.5h1M492 577.5h1M503 579.5h1M503 572.5h1M499 584.5h1M501 568.5h1M504 566.5h1M497 576.5h1M495 589.5h1M505 579.5h1M501 579.5h1M490 577.5h1M503 570.5h1M496 573.5h1M501 564.5h1M499 569.5h1M503 581.5h1M504 562.5h1M501 569.5h1M501 573.5h1M501 575.5h1M503 569.5h1M505 570.5h1M502 581.5h1" stroke="#444" stroke-width="1" fill="none"/>
<path d="M478 588.5h1M477 584.5h1M478 579.5h1M468 585.5h1M474 580.5h1M481 586.5h1M472 588.5h1M479 583.5h1M483 587.5h1M481 585.5h1M478 580.5h1M475 591.5h1M484 583.5h1M478 586.5h1M480 592.5h1M474 585.5h1M476 586.5h1M477 581.5h1M481 588.5h1M472 590.5h1M481 587.5h1M476 588.5h1M481 582.5h1M472 591.5h1M480 585.5h1M482 587.5h1M478 577.5h1M475 588.5h1M480 588.5h1M481 583.5h1M483 584.5h1M471 578.5h1M486 579.5h1M476 585.5h1M475 583.5h1M479 582.5h1M473 585.5h1M480 586.5h1M479 580.5h1M475 590.5h1M471 580.5h1M476 581.5h1M480 580.5h1M477 578.5h1M480 579.5h1M477 582.5h1M477 590.5h1M479 577.5h1M476 587.5h1M477 591.5h1M472 585.5h1M477 585.5h1M474 586.5h1M472 589.5h1M468 586.5h1M475 587.5h1M479 585.5h1M484 585.5h1M474 584.5h1M476 592.5h1M473 584.5h1M471 585.5h1M477 583.5h1M484 582.5h1M478 576.5h1M473 579.5h1M473 580.5h1M478 585.5h1M481 581.5h1M479 589.5h1M476 578.5h1M477 592.5h1M478 583.5h1M474 581.5h1M480 578.5h1M478 584.5h1M477 589.5h1M475 592.5h1M482 577.5h1M485 576.5h1M477 579.5h1M479 578.5h1M484 579.5h1M483 581.5h1M480 584.5h1M480 581.5h1M479 587.5h1M483 580.5h1M476 582.5h1M479 586.5h1M483 585.5h1M477 588.5h1M478 590.5h1M476 580.5h1M475 581.5h1M475 579.5h1M477 587.5h1M483 577.5h1M474 583.5h1M477 586.5h1M479 591.5h1M474 576.5h1M481 584.5h1M485 581.5h1M485 586.5h1M482 589.5h1M472 597.5h1M476 591.5h1M471 583.5h1M475 585.5h1M481 580.5h1M472 583.5h1M471 587.5h1M470 590.5h1M473 581.5h1M482 585.5h1M474 590.5h1M475 580.5h1M477 574.5h1M475 586.5h1M476 583.5h1M479 581.5h1M473 588.5h1M481 579.5h1M484 581.5h1M474 582.5h1M482 582.5h1M482 581.5h1M479 584.5h1M485 579.5h1M482 584.5h1M477 580.5h1M478 582.5h1M474 587.5h1M472 584.5h1M484 584.5h1M478 581.5h1M484 587.5h1M473 583.5h1M482 583.5h1M481 578.5h1M478 587.5h1M479 590.5h1M475 582.5h1M483 579.5h1M480 590.5h1M481 590.5h1M478 589.5h1M480 583.5h1M476 590.5h1M475 584.5h1M483 583.5h1M470 591.5h1M477 593.5h1M481 592.5h1M473 594.5h1M472 594.5h1M476 589.5h1M473 582.5h1M482 588.5h1M484 580.5h1M469 584.5h1M473 586.5h1M474 588.5h1M479 579.5h1M476 584.5h1M479 576.5h1M476 596.5h1M478 591.5h1M482 590.5h1M474 579.5h1M485 584.5h1M475 589.5h1M478 578.5h1M480 587.5h1M469 590.5h1M480 582.5h1M480 589.5h1M479 588.5h1M472 586.5h1M471 584.5h1M476 579.5h1M473 593.5h1M471 593.5h1M470 593.5h1M465 589.5h1M462 595.5h1M473 599.5h1M453 596.5h1M498 588.5h1M476 597.5h1M461 592.5h1M463 597.5h1M506 558.5h1M511 557.5h1M507 559.5h1M508 560.5h1M502 560.5h1M506 565.5h1M499 559.5h1M506 555.5h1M504 563.5h1M509 556.5h1M499 565.5h1M508 556.5h1M493 556.5h1M505 561.5h1M509 559.5h1M504 561.5h1M497 566.5h1M508 561.5h1M505 565.5h1M503 567.5h1M500 563.5h1M505 556.5h1M502 563.5h1M506 568.5h1M497 560.5h1M506 560.5h1M504 554.5h1M511 562.5h1M502 559.5h1M504 558.5h1M503 561.5h1M501 560.5h1M501 559.5h1M495 565.5h1M498 569.5h1M501 558.5h1M499 562.5h1M497 557.5h1M495 562.5h1M507 560.5h1M503 562.5h1M495 558.5h1M501 561.5h1M500 553.5h1M504 560.5h1M500 560.5h1M502 561.5h1M498 562.5h1M503 564.5h1M502 555.5h1M494 581.5h1M500 571.5h1M500 578.5h1M501 565.5h1M501 570.5h1M500 568.5h1M507 586.5h1M503 565.5h1" stroke="#000" stroke-width="1" fill="none"/>
</g>
<rect x="430.10" y="510.60" width="99.40" height="100.00" fill="none" stroke="#9a9a9a" stroke-width="1"/>
<path d="M427.50 606.94H430.10M427.50 604.10H430.10M427.50 602.09H430.10M427.50 600.53H430.10M427.50 599.25H430.10M427.50 598.17H430.10M427.50 597.23H430.10M427.50 596.41H430.10M427.50 590.82H430.10M427.50 587.98H430.10M427.50 585.96H430.10M427.50 584.40H430.10M427.50 583.12H430.10M427.50 582.04H430.10M427.50 581.11H430.10M427.50 580.28H430.10M427.50 574.69H430.10M427.50 571.85H430.10M427.50 569.83H430.10M427.50 568.27H430.10M427.50 566.99H430.10M427.50 565.91H430.10M427.50 564.98H430.10M427.50 564.15H430.10M427.50 558.56H430.10M427.50 555.72H430.10M427.50 553.70H430.10M427.50 552.14H430.10M427.50 550.86H430.10M427.50 549.78H430.10M427.50 548.85H430.10M427.50 548.02H430.10M427.50 542.43H430.10M427.50 539.59H430.10M427.50 537.57H430.10M427.50 536.01H430.10M427.50 534.73H430.10M427.50 533.65H430.10M427.50 532.72H430.10M427.50 531.89H430.10M427.50 526.30H430.10M427.50 523.46H430.10M427.50 521.44H430.10M427.50 519.88H430.10M427.50 518.60H430.10M427.50 517.52H430.10M427.50 516.59H430.10M427.50 515.76H430.10" stroke="#7a7a7a" stroke-width="1.1"/>
<path d="M426.70 611.80H430.10M426.70 595.67H430.10M426.70 579.54H430.10M426.70 563.41H430.10M426.70 547.28H430.10M426.70 531.15H430.10M426.70 515.03H430.10" stroke="#222" stroke-width="1.6"/>
<path d="M434.96 610.60V613.00M437.80 610.60V613.00M439.81 610.60V613.00M441.37 610.60V613.00M442.65 610.60V613.00M443.73 610.60V613.00M444.67 610.60V613.00M445.49 610.60V613.00M451.08 610.60V613.00M453.92 610.60V613.00M455.94 610.60V613.00M457.50 610.60V613.00M458.78 610.60V613.00M459.86 610.60V613.00M460.79 610.60V613.00M461.62 610.60V613.00M467.21 610.60V613.00M470.05 610.60V613.00M472.07 610.60V613.00M473.63 610.60V613.00M474.91 610.60V613.00M475.99 610.60V613.00M476.92 610.60V613.00M477.75 610.60V613.00M483.34 610.60V613.00M486.18 610.60V613.00M488.20 610.60V613.00M489.76 610.60V613.00M491.04 610.60V613.00M492.12 610.60V613.00M493.05 610.60V613.00M493.88 610.60V613.00M499.47 610.60V613.00M502.31 610.60V613.00M504.33 610.60V613.00M505.89 610.60V613.00M507.17 610.60V613.00M508.25 610.60V613.00M509.18 610.60V613.00M510.01 610.60V613.00M515.60 610.60V613.00M518.44 610.60V613.00M520.46 610.60V613.00M522.02 610.60V613.00M523.30 610.60V613.00M524.38 610.60V613.00M525.31 610.60V613.00M526.14 610.60V613.00" stroke="#8a8a8a" stroke-width="1"/>
<path d="M430.10 610.60V613.40M446.23 610.60V613.40M462.36 610.60V613.40M478.49 610.60V613.40M494.62 610.60V613.40M510.75 610.60V613.40M526.87 610.60V613.40" stroke="#333" stroke-width="1.3"/>
<line x1="490.10" y1="510.60" x2="490.10" y2="610.60" stroke="#4a4a4a" stroke-width="1.9" />
<line x1="430.10" y1="564.60" x2="529.50" y2="564.60" stroke="#4a4a4a" stroke-width="1.9" />
<text transform="translate(430.62,517.80) scale(1.15,1)" font-size="6.0" font-weight="bold" fill="#1e1e1e">Q1-UL</text>
<text transform="translate(430.45,523.70) scale(1.15,1)" font-size="6.0" font-weight="bold" fill="#1e1e1e">1.6%</text>
<text transform="translate(507.88,517.80) scale(1.1500,1)" font-size="6.00" font-weight="bold" fill="#1e1e1e">Q1-UR</text>
<text transform="translate(507.71,523.70) scale(1.15,1)" font-size="6.0" font-weight="bold" fill="#1e1e1e">15.2%</text>
<text transform="translate(430.62,603.60) scale(1.15,1)" font-size="6.0" font-weight="bold" fill="#1e1e1e">Q1-LL</text>
<text transform="translate(430.69,609.40) scale(1.15,1)" font-size="6.0" font-weight="bold" fill="#1e1e1e">50.8%</text>
<text transform="translate(508.64,603.60) scale(1.1500,1)" font-size="6.00" font-weight="bold" fill="#1e1e1e">Q1-LR</text>
<text transform="translate(508.74,609.40) scale(1.15,1)" font-size="6.0" font-weight="bold" fill="#1e1e1e">32.4%</text>
<text transform="translate(479.86,558.70) scale(1.1500,1)" font-size="6.00" font-weight="bold" fill="#1e1e1e">Q1</text>
<text transform="translate(423.10,613.60) rotate(-75)" font-size="4.6" fill="#333">ω<tspan font-size="4" dy="-1.2">1</tspan></text>
<text transform="translate(427.90,619.20) rotate(-15)" font-size="4.6" fill="#333">ω<tspan font-size="4" dy="-1.2">1</tspan></text>
<text transform="translate(423.10,597.47) rotate(-75)" font-size="4.6" fill="#333">ω<tspan font-size="4" dy="-1.2">2</tspan></text>
<text transform="translate(444.03,619.20) rotate(-15)" font-size="4.6" fill="#333">ω<tspan font-size="4" dy="-1.2">2</tspan></text>
<text transform="translate(423.10,581.34) rotate(-75)" font-size="4.6" fill="#333">ω<tspan font-size="4" dy="-1.2">3</tspan></text>
<text transform="translate(460.16,619.20) rotate(-15)" font-size="4.6" fill="#333">ω<tspan font-size="4" dy="-1.2">3</tspan></text>
<text transform="translate(423.10,565.21) rotate(-75)" font-size="4.6" fill="#333">ω<tspan font-size="4" dy="-1.2">4</tspan></text>
<text transform="translate(476.29,619.20) rotate(-15)" font-size="4.6" fill="#333">ω<tspan font-size="4" dy="-1.2">4</tspan></text>
<text transform="translate(423.10,549.08) rotate(-75)" font-size="4.6" fill="#333">ω<tspan font-size="4" dy="-1.2">5</tspan></text>
<text transform="translate(492.42,619.20) rotate(-15)" font-size="4.6" fill="#333">ω<tspan font-size="4" dy="-1.2">5</tspan></text>
<text transform="translate(423.10,532.95) rotate(-75)" font-size="4.6" fill="#333">ω<tspan font-size="4" dy="-1.2">6</tspan></text>
<text transform="translate(508.55,619.20) rotate(-15)" font-size="4.6" fill="#333">ω<tspan font-size="4" dy="-1.2">6</tspan></text>
<text transform="translate(423.10,514.60) rotate(-75)" font-size="4.6" fill="#333">ω<tspan font-size="4" dy="-1.2">7.2</tspan></text>
<text transform="translate(527.30,619.20) rotate(-15)" font-size="4.6" fill="#333">ω<tspan font-size="4" dy="-1.2">7.2</tspan></text>
<text transform="translate(471.10,626.60) scale(1.0000,1)" font-size="6.00" font-weight="normal" fill="#333">FL1-A</text>
<text transform="translate(417.70,579.20) rotate(-90)" font-size="5.9" fill="#333">FL2-A</text>
<text transform="translate(567.19,501.00) scale(1.0000,1)" font-size="6.80" font-weight="normal" fill="#111">15μM PEITC MDA-MB-231</text>
<text transform="translate(594.73,508.40) scale(1.0000,1)" font-size="6.70" font-weight="normal" fill="#111">Gate: P1</text>
<g filter="url(#fb)">
<path d="M603 585.5h1M604 589.5h1M616 572.5h1M602 583.5h1M600 576.5h1M610 589.5h1M616 575.5h1M606 577.5h1M617 588.5h1M608 590.5h1M611 573.5h1M614 588.5h1M607 594.5h1M601 590.5h1M602 577.5h1M610 573.5h1M606 590.5h1M607 575.5h1M602 582.5h1M619 579.5h1M609 571.5h1M601 578.5h1M607 573.5h1M621 583.5h1M605 586.5h1M604 588.5h1M608 572.5h1M614 591.5h1M614 572.5h1M617 576.5h1M617 587.5h1M601 593.5h1M602 576.5h1M607 596.5h1M599 581.5h1M616 585.5h1M614 573.5h1M620 586.5h1M621 577.5h1M619 577.5h1M615 573.5h1M617 569.5h1M610 593.5h1M615 588.5h1M601 580.5h1M617 577.5h1M605 575.5h1M603 575.5h1M612 576.5h1M610 566.5h1M619 580.5h1M609 590.5h1M613 573.5h1M613 589.5h1M618 574.5h1M615 591.5h1M612 594.5h1M600 585.5h1M610 571.5h1M612 574.5h1M618 575.5h1M615 589.5h1M616 578.5h1M606 574.5h1M597 582.5h1M614 574.5h1M605 576.5h1M608 571.5h1M610 576.5h1M600 582.5h1M615 571.5h1M614 587.5h1M616 571.5h1M621 582.5h1M608 596.5h1M584 591.5h1M595 591.5h1M598 604.5h1M606 587.5h1M594 595.5h1M600 590.5h1M589 595.5h1M604 596.5h1M573 593.5h1M604 595.5h1M599 586.5h1M583 598.5h1M596 587.5h1M607 592.5h1M622 598.5h1M601 602.5h1M602 609.5h1M598 596.5h1M599 604.5h1M590 597.5h1M628 593.5h1M581 597.5h1M579 601.5h1M597 602.5h1M591 607.5h1M585 599.5h1M616 597.5h1M586 590.5h1M606 595.5h1M620 594.5h1M596 590.5h1M590 605.5h1M620 593.5h1M587 582.5h1M601 598.5h1M588 606.5h1M591 602.5h1M604 593.5h1M615 597.5h1M589 605.5h1M616 608.5h1M593 590.5h1M610 603.5h1M617 591.5h1M604 597.5h1M585 587.5h1M591 605.5h1M601 597.5h1M593 601.5h1M597 588.5h1M591 594.5h1M594 592.5h1M610 602.5h1M587 602.5h1M601 587.5h1M603 588.5h1M584 595.5h1M590 596.5h1M608 593.5h1M579 590.5h1M595 585.5h1M598 597.5h1M621 584.5h1M602 597.5h1M619 586.5h1M600 592.5h1M587 604.5h1M605 608.5h1M588 600.5h1M612 599.5h1M589 587.5h1M597 589.5h1M597 595.5h1M584 602.5h1M585 605.5h1M611 595.5h1M602 595.5h1M589 590.5h1M580 599.5h1M602 603.5h1M602 607.5h1M606 597.5h1M600 602.5h1M596 598.5h1M612 603.5h1M592 593.5h1M569 605.5h1M599 606.5h1M586 591.5h1M593 586.5h1M602 600.5h1M602 598.5h1M602 590.5h1M592 594.5h1M590 590.5h1M603 602.5h1M593 587.5h1M599 593.5h1M621 593.5h1M610 601.5h1M585 598.5h1M607 600.5h1M591 601.5h1M583 582.5h1M623 583.5h1M602 589.5h1M611 596.5h1M603 595.5h1M597 587.5h1M611 570.5h1M594 601.5h1M601 601.5h1M614 589.5h1M620 590.5h1M625 591.5h1M597 604.5h1M596 593.5h1M603 590.5h1M588 602.5h1M611 598.5h1M597 596.5h1M608 595.5h1M599 590.5h1M621 598.5h1M603 601.5h1M602 593.5h1M588 593.5h1M588 592.5h1M613 602.5h1M595 601.5h1M619 597.5h1M596 597.5h1M595 606.5h1M599 578.5h1M589 599.5h1M593 602.5h1M593 593.5h1M586 589.5h1M593 589.5h1M602 606.5h1M610 600.5h1M585 593.5h1M580 591.5h1M590 586.5h1M604 591.5h1M608 598.5h1M595 597.5h1M581 596.5h1M601 603.5h1M608 604.5h1M601 595.5h1M599 589.5h1M599 592.5h1M594 593.5h1M620 585.5h1M592 592.5h1M618 580.5h1M586 609.5h1M595 584.5h1M609 592.5h1M578 604.5h1M587 589.5h1M610 594.5h1M634 581.5h1M625 583.5h1M593 595.5h1M610 592.5h1M598 599.5h1M614 595.5h1M591 592.5h1M596 603.5h1M624 594.5h1M595 590.5h1M600 589.5h1M599 607.5h1M612 593.5h1M581 585.5h1M593 596.5h1M590 599.5h1M586 595.5h1M597 606.5h1M600 603.5h1M582 603.5h1M597 603.5h1M592 595.5h1M589 602.5h1M599 597.5h1M585 589.5h1M599 588.5h1M605 597.5h1M625 581.5h1M589 594.5h1M602 574.5h1M605 589.5h1M592 587.5h1M624 561.5h1M624 562.5h1M626 552.5h1M642 560.5h1M637 562.5h1M639 562.5h1M638 571.5h1M633 571.5h1M628 560.5h1M640 564.5h1M630 554.5h1M637 555.5h1M633 566.5h1M635 572.5h1M637 544.5h1M635 560.5h1M639 559.5h1M639 551.5h1M620 553.5h1M634 563.5h1M627 561.5h1M626 564.5h1M637 564.5h1M631 551.5h1M638 560.5h1M625 558.5h1M643 573.5h1M637 548.5h1M644 569.5h1M629 569.5h1M636 567.5h1M621 560.5h1M628 556.5h1M638 567.5h1M632 564.5h1M621 567.5h1M637 553.5h1M629 556.5h1M631 560.5h1M638 562.5h1M636 576.5h1M623 560.5h1M634 566.5h1M635 553.5h1M628 550.5h1M637 572.5h1M632 567.5h1M636 564.5h1M627 563.5h1M629 568.5h1M617 560.5h1M635 563.5h1M634 571.5h1M629 555.5h1M632 545.5h1M631 552.5h1M632 566.5h1M623 567.5h1M633 559.5h1M632 572.5h1M624 563.5h1M613 559.5h1M630 556.5h1M639 558.5h1M641 555.5h1M628 557.5h1M640 560.5h1M630 567.5h1M627 553.5h1M620 560.5h1M633 555.5h1M631 568.5h1M642 559.5h1M629 554.5h1M623 554.5h1M622 564.5h1M632 565.5h1M639 574.5h1M642 573.5h1M629 567.5h1M628 570.5h1M637 556.5h1M622 558.5h1M639 565.5h1M634 558.5h1M636 556.5h1M624 567.5h1M625 557.5h1M636 557.5h1M622 560.5h1M628 563.5h1M632 552.5h1M625 569.5h1M638 553.5h1M636 570.5h1M636 566.5h1M638 554.5h1M624 556.5h1M626 557.5h1M623 559.5h1M613 558.5h1M639 568.5h1M620 564.5h1M628 554.5h1M647 559.5h1M629 557.5h1M623 561.5h1M645 555.5h1M629 566.5h1M622 554.5h1M636 559.5h1M620 557.5h1M618 556.5h1M628 561.5h1M638 556.5h1M634 554.5h1M640 566.5h1M641 562.5h1M616 563.5h1M615 572.5h1M620 568.5h1M629 558.5h1M637 559.5h1M634 557.5h1M640 555.5h1M618 555.5h1M623 556.5h1M631 559.5h1M632 558.5h1M631 573.5h1M642 561.5h1M627 576.5h1M633 556.5h1M637 563.5h1M635 576.5h1M631 556.5h1M626 566.5h1M621 587.5h1M627 573.5h1M625 586.5h1M629 581.5h1M629 572.5h1M626 568.5h1M631 557.5h1M620 576.5h1M621 569.5h1M622 590.5h1M633 572.5h1M625 576.5h1M620 589.5h1M630 589.5h1M636 584.5h1M624 575.5h1M627 559.5h1M619 575.5h1M627 596.5h1M618 581.5h1M616 591.5h1M633 578.5h1M618 565.5h1M622 591.5h1M625 578.5h1M622 578.5h1M633 584.5h1M633 583.5h1M620 583.5h1M622 581.5h1M618 573.5h1M629 586.5h1M628 577.5h1M617 561.5h1M612 557.5h1M628 568.5h1M622 584.5h1M626 576.5h1M623 591.5h1M622 576.5h1M621 574.5h1M626 598.5h1M624 571.5h1M624 583.5h1M622 568.5h1M617 565.5h1M627 583.5h1M634 585.5h1M628 584.5h1M635 584.5h1M632 578.5h1M626 586.5h1M621 588.5h1M622 569.5h1M622 592.5h1M623 581.5h1M631 598.5h1M629 582.5h1M626 574.5h1M627 578.5h1M622 582.5h1M623 578.5h1M619 576.5h1M636 573.5h1M628 586.5h1M640 571.5h1M623 573.5h1M621 581.5h1M626 591.5h1M617 563.5h1M616 566.5h1M631 571.5h1M631 576.5h1M638 570.5h1M632 569.5h1M628 575.5h1M629 594.5h1M628 585.5h1M624 574.5h1M632 602.5h1M630 570.5h1M635 578.5h1M629 578.5h1M627 582.5h1M630 563.5h1M632 576.5h1M628 582.5h1M634 579.5h1M626 589.5h1M634 580.5h1M635 575.5h1M632 583.5h1M633 569.5h1M627 572.5h1M639 563.5h1M630 574.5h1M633 582.5h1M632 591.5h1M630 575.5h1M627 590.5h1M627 574.5h1M634 583.5h1M629 585.5h1M635 577.5h1M634 575.5h1M630 580.5h1M630 581.5h1M630 591.5h1M626 565.5h1M629 607.5h1M630 579.5h1M633 593.5h1M628 573.5h1M634 584.5h1M631 584.5h1M624 566.5h1M628 572.5h1M635 569.5h1M625 595.5h1M631 578.5h1M626 573.5h1M634 574.5h1M631 586.5h1M634 578.5h1M634 573.5h1M634 572.5h1M629 570.5h1M633 565.5h1" stroke="#888" stroke-width="1" fill="none"/>
<path d="M618 586.5h1M600 583.5h1M605 579.5h1M618 585.5h1M617 579.5h1M605 578.5h1M613 576.5h1M605 580.5h1M615 574.5h1M605 588.5h1M610 588.5h1M602 581.5h1M614 576.5h1M614 586.5h1M612 577.5h1M604 592.5h1M618 576.5h1M620 574.5h1M612 572.5h1M606 592.5h1M618 584.5h1M606 580.5h1M616 590.5h1M609 573.5h1M611 572.5h1M600 588.5h1M602 585.5h1M620 578.5h1M605 581.5h1M608 576.5h1M608 573.5h1M611 592.5h1M598 587.5h1M604 574.5h1M612 575.5h1M619 588.5h1M604 578.5h1M609 575.5h1M613 575.5h1M617 575.5h1M615 586.5h1M602 586.5h1M618 577.5h1M609 587.5h1M615 590.5h1M618 590.5h1M600 595.5h1M609 591.5h1M601 589.5h1M619 584.5h1M603 586.5h1M609 594.5h1M619 578.5h1M609 577.5h1M602 588.5h1M605 583.5h1M600 584.5h1M615 585.5h1M602 584.5h1M620 572.5h1M608 574.5h1M603 591.5h1M605 587.5h1M604 584.5h1M618 583.5h1M606 591.5h1M598 580.5h1M609 574.5h1M610 575.5h1M619 582.5h1M618 589.5h1M598 588.5h1M615 577.5h1M605 590.5h1M627 580.5h1M592 602.5h1M623 586.5h1M613 592.5h1M600 594.5h1M603 607.5h1M595 587.5h1M591 595.5h1M593 584.5h1M601 585.5h1M601 596.5h1M598 592.5h1M606 594.5h1M604 594.5h1M607 589.5h1M603 596.5h1M587 598.5h1M597 594.5h1M610 599.5h1M603 594.5h1M607 595.5h1M595 600.5h1M619 568.5h1M606 593.5h1M616 592.5h1M597 597.5h1M634 561.5h1M628 559.5h1M632 557.5h1M636 561.5h1M629 553.5h1M633 561.5h1M631 558.5h1M629 571.5h1M627 555.5h1M624 550.5h1M631 561.5h1M624 557.5h1M639 555.5h1M626 572.5h1M623 555.5h1M640 567.5h1M633 557.5h1M631 554.5h1M641 561.5h1M632 559.5h1M637 571.5h1M625 565.5h1M623 557.5h1M625 566.5h1M638 564.5h1M633 564.5h1M622 562.5h1M636 565.5h1M638 558.5h1M627 568.5h1M626 561.5h1M632 561.5h1M636 563.5h1M631 572.5h1M631 555.5h1M638 566.5h1M635 561.5h1M625 563.5h1M632 563.5h1M634 555.5h1M624 564.5h1M623 568.5h1M627 550.5h1M625 561.5h1M635 562.5h1M633 567.5h1M630 564.5h1M630 565.5h1M637 557.5h1M631 565.5h1M627 565.5h1M636 560.5h1M622 557.5h1M627 567.5h1M629 574.5h1M630 569.5h1M630 577.5h1M623 575.5h1M625 582.5h1M628 583.5h1M625 577.5h1M632 584.5h1M630 578.5h1M631 575.5h1M631 570.5h1M628 580.5h1M623 574.5h1M624 581.5h1M631 579.5h1M628 578.5h1M629 584.5h1M630 576.5h1M631 577.5h1M629 579.5h1M631 581.5h1M626 575.5h1M631 592.5h1M629 562.5h1M632 582.5h1M631 574.5h1M628 564.5h1M629 577.5h1M628 579.5h1M631 582.5h1" stroke="#444" stroke-width="1" fill="none"/>
<path d="M604 582.5h1M607 581.5h1M609 579.5h1M613 578.5h1M608 580.5h1M608 584.5h1M609 586.5h1M613 580.5h1M616 577.5h1M608 579.5h1M603 583.5h1M606 585.5h1M618 579.5h1M612 582.5h1M607 591.5h1M612 585.5h1M609 589.5h1M606 582.5h1M612 587.5h1M610 587.5h1M611 584.5h1M609 585.5h1M611 580.5h1M608 582.5h1M604 585.5h1M610 582.5h1M615 587.5h1M607 582.5h1M609 588.5h1M606 586.5h1M607 588.5h1M613 584.5h1M605 585.5h1M611 575.5h1M617 584.5h1M613 583.5h1M612 584.5h1M609 581.5h1M603 589.5h1M610 583.5h1M612 578.5h1M608 588.5h1M609 583.5h1M603 581.5h1M616 584.5h1M613 581.5h1M611 578.5h1M612 579.5h1M607 583.5h1M604 579.5h1M614 585.5h1M613 585.5h1M612 580.5h1M609 584.5h1M611 582.5h1M606 584.5h1M613 579.5h1M614 579.5h1M612 591.5h1M610 580.5h1M608 587.5h1M608 589.5h1M617 585.5h1M609 582.5h1M611 586.5h1M617 580.5h1M610 591.5h1M608 592.5h1M612 586.5h1M607 577.5h1M609 580.5h1M613 582.5h1M615 576.5h1M614 584.5h1M607 580.5h1M604 581.5h1M610 579.5h1M616 576.5h1M603 582.5h1M611 581.5h1M614 581.5h1M612 581.5h1M615 575.5h1M615 583.5h1M610 581.5h1M610 577.5h1M604 583.5h1M610 584.5h1M604 586.5h1M602 587.5h1M607 584.5h1M608 586.5h1M614 578.5h1M607 578.5h1M614 580.5h1M614 577.5h1M610 585.5h1M611 579.5h1M604 580.5h1M603 579.5h1M610 578.5h1M615 584.5h1M611 587.5h1M605 577.5h1M608 585.5h1M623 577.5h1M616 580.5h1M615 578.5h1M613 577.5h1M610 590.5h1M614 582.5h1M607 585.5h1M613 587.5h1M613 588.5h1M611 583.5h1M607 574.5h1M608 581.5h1M609 578.5h1M603 580.5h1M613 590.5h1M616 582.5h1M607 587.5h1M607 586.5h1M601 591.5h1M615 580.5h1M611 588.5h1M612 589.5h1M606 588.5h1M615 579.5h1M611 585.5h1M607 590.5h1M603 587.5h1M602 580.5h1M603 578.5h1M605 582.5h1M606 579.5h1M605 595.5h1M612 583.5h1M601 583.5h1M608 583.5h1M606 581.5h1M615 582.5h1M616 583.5h1M605 584.5h1M606 583.5h1M618 578.5h1M617 582.5h1M607 579.5h1M617 583.5h1M614 583.5h1M619 583.5h1M615 581.5h1M608 578.5h1M616 581.5h1M604 587.5h1M608 575.5h1M616 579.5h1M611 577.5h1M610 572.5h1M606 589.5h1M611 590.5h1M601 586.5h1M617 578.5h1M605 591.5h1M603 584.5h1M612 590.5h1M610 586.5h1M618 582.5h1M606 578.5h1M613 586.5h1M607 598.5h1M601 588.5h1M616 587.5h1M611 576.5h1M594 600.5h1M595 599.5h1M599 591.5h1M599 595.5h1M601 592.5h1M597 601.5h1M607 593.5h1M630 568.5h1M624 558.5h1M635 565.5h1M631 562.5h1M632 568.5h1M629 564.5h1M637 566.5h1M628 569.5h1M632 562.5h1M633 563.5h1M628 567.5h1M634 564.5h1M633 558.5h1M630 559.5h1M628 562.5h1M617 566.5h1M629 565.5h1M642 562.5h1M636 562.5h1M624 568.5h1M630 558.5h1M630 562.5h1M626 562.5h1M628 576.5h1M641 558.5h1M634 568.5h1M633 570.5h1M627 566.5h1M638 561.5h1M627 564.5h1M631 563.5h1M627 556.5h1M625 572.5h1M634 565.5h1M630 561.5h1M629 563.5h1M632 560.5h1M625 555.5h1M627 570.5h1M634 560.5h1M624 569.5h1M634 562.5h1M625 564.5h1M626 571.5h1M628 566.5h1M626 569.5h1M633 562.5h1M625 574.5h1M626 567.5h1M630 572.5h1M625 579.5h1M629 576.5h1M631 564.5h1M631 566.5h1" stroke="#000" stroke-width="1" fill="none"/>
</g>
<rect x="559.40" y="510.60" width="99.50" height="100.00" fill="none" stroke="#9a9a9a" stroke-width="1"/>
<path d="M556.80 606.94H559.40M556.80 604.10H559.40M556.80 602.09H559.40M556.80 600.53H559.40M556.80 599.25H559.40M556.80 598.17H559.40M556.80 597.23H559.40M556.80 596.41H559.40M556.80 590.82H559.40M556.80 587.98H559.40M556.80 585.96H559.40M556.80 584.40H559.40M556.80 583.12H559.40M556.80 582.04H559.40M556.80 581.11H559.40M556.80 580.28H559.40M556.80 574.69H559.40M556.80 571.85H559.40M556.80 569.83H559.40M556.80 568.27H559.40M556.80 566.99H559.40M556.80 565.91H559.40M556.80 564.98H559.40M556.80 564.15H559.40M556.80 558.56H559.40M556.80 555.72H559.40M556.80 553.70H559.40M556.80 552.14H559.40M556.80 550.86H559.40M556.80 549.78H559.40M556.80 548.85H559.40M556.80 548.02H559.40M556.80 542.43H559.40M556.80 539.59H559.40M556.80 537.57H559.40M556.80 536.01H559.40M556.80 534.73H559.40M556.80 533.65H559.40M556.80 532.72H559.40M556.80 531.89H559.40M556.80 526.30H559.40M556.80 523.46H559.40M556.80 521.44H559.40M556.80 519.88H559.40M556.80 518.60H559.40M556.80 517.52H559.40M556.80 516.59H559.40M556.80 515.76H559.40" stroke="#7a7a7a" stroke-width="1.1"/>
<path d="M556.00 611.80H559.40M556.00 595.67H559.40M556.00 579.54H559.40M556.00 563.41H559.40M556.00 547.28H559.40M556.00 531.15H559.40M556.00 515.03H559.40" stroke="#222" stroke-width="1.6"/>
<path d="M564.26 610.60V613.00M567.10 610.60V613.00M569.11 610.60V613.00M570.67 610.60V613.00M571.95 610.60V613.00M573.03 610.60V613.00M573.97 610.60V613.00M574.79 610.60V613.00M580.38 610.60V613.00M583.22 610.60V613.00M585.24 610.60V613.00M586.80 610.60V613.00M588.08 610.60V613.00M589.16 610.60V613.00M590.09 610.60V613.00M590.92 610.60V613.00M596.51 610.60V613.00M599.35 610.60V613.00M601.37 610.60V613.00M602.93 610.60V613.00M604.21 610.60V613.00M605.29 610.60V613.00M606.22 610.60V613.00M607.05 610.60V613.00M612.64 610.60V613.00M615.48 610.60V613.00M617.50 610.60V613.00M619.06 610.60V613.00M620.34 610.60V613.00M621.42 610.60V613.00M622.35 610.60V613.00M623.18 610.60V613.00M628.77 610.60V613.00M631.61 610.60V613.00M633.63 610.60V613.00M635.19 610.60V613.00M636.47 610.60V613.00M637.55 610.60V613.00M638.48 610.60V613.00M639.31 610.60V613.00M644.90 610.60V613.00M647.74 610.60V613.00M649.76 610.60V613.00M651.32 610.60V613.00M652.60 610.60V613.00M653.68 610.60V613.00M654.61 610.60V613.00M655.44 610.60V613.00" stroke="#8a8a8a" stroke-width="1"/>
<path d="M559.40 610.60V613.40M575.53 610.60V613.40M591.66 610.60V613.40M607.79 610.60V613.40M623.92 610.60V613.40M640.05 610.60V613.40M656.17 610.60V613.40" stroke="#333" stroke-width="1.3"/>
<line x1="619.40" y1="510.60" x2="619.40" y2="610.60" stroke="#4a4a4a" stroke-width="1.9" />
<line x1="559.40" y1="564.60" x2="658.90" y2="564.60" stroke="#4a4a4a" stroke-width="1.9" />
<text transform="translate(559.92,517.80) scale(1.15,1)" font-size="6.0" font-weight="bold" fill="#1e1e1e">Q1-UL</text>
<text transform="translate(559.75,523.70) scale(1.15,1)" font-size="6.0" font-weight="bold" fill="#1e1e1e">1.8%</text>
<text transform="translate(637.28,517.80) scale(1.1500,1)" font-size="6.00" font-weight="bold" fill="#1e1e1e">Q1-UR</text>
<text transform="translate(637.11,523.70) scale(1.15,1)" font-size="6.0" font-weight="bold" fill="#1e1e1e">13.4%</text>
<text transform="translate(559.92,603.60) scale(1.15,1)" font-size="6.0" font-weight="bold" fill="#1e1e1e">Q1-LL</text>
<text transform="translate(559.99,609.40) scale(1.15,1)" font-size="6.0" font-weight="bold" fill="#1e1e1e">50.6%</text>
<text transform="translate(638.04,603.60) scale(1.1500,1)" font-size="6.00" font-weight="bold" fill="#1e1e1e">Q1-LR</text>
<text transform="translate(638.14,609.40) scale(1.15,1)" font-size="6.0" font-weight="bold" fill="#1e1e1e">34.2%</text>
<text transform="translate(609.16,558.70) scale(1.1500,1)" font-size="6.00" font-weight="bold" fill="#1e1e1e">Q1</text>
<text transform="translate(552.40,613.60) rotate(-75)" font-size="4.6" fill="#333">ω<tspan font-size="4" dy="-1.2">1</tspan></text>
<text transform="translate(557.20,619.20) rotate(-15)" font-size="4.6" fill="#333">ω<tspan font-size="4" dy="-1.2">1</tspan></text>
<text transform="translate(552.40,597.47) rotate(-75)" font-size="4.6" fill="#333">ω<tspan font-size="4" dy="-1.2">2</tspan></text>
<text transform="translate(573.33,619.20) rotate(-15)" font-size="4.6" fill="#333">ω<tspan font-size="4" dy="-1.2">2</tspan></text>
<text transform="translate(552.40,581.34) rotate(-75)" font-size="4.6" fill="#333">ω<tspan font-size="4" dy="-1.2">3</tspan></text>
<text transform="translate(589.46,619.20) rotate(-15)" font-size="4.6" fill="#333">ω<tspan font-size="4" dy="-1.2">3</tspan></text>
<text transform="translate(552.40,565.21) rotate(-75)" font-size="4.6" fill="#333">ω<tspan font-size="4" dy="-1.2">4</tspan></text>
<text transform="translate(605.59,619.20) rotate(-15)" font-size="4.6" fill="#333">ω<tspan font-size="4" dy="-1.2">4</tspan></text>
<text transform="translate(552.40,549.08) rotate(-75)" font-size="4.6" fill="#333">ω<tspan font-size="4" dy="-1.2">5</tspan></text>
<text transform="translate(621.72,619.20) rotate(-15)" font-size="4.6" fill="#333">ω<tspan font-size="4" dy="-1.2">5</tspan></text>
<text transform="translate(552.40,532.95) rotate(-75)" font-size="4.6" fill="#333">ω<tspan font-size="4" dy="-1.2">6</tspan></text>
<text transform="translate(637.85,619.20) rotate(-15)" font-size="4.6" fill="#333">ω<tspan font-size="4" dy="-1.2">6</tspan></text>
<text transform="translate(552.40,514.60) rotate(-75)" font-size="4.6" fill="#333">ω<tspan font-size="4" dy="-1.2">7.2</tspan></text>
<text transform="translate(656.70,619.20) rotate(-15)" font-size="4.6" fill="#333">ω<tspan font-size="4" dy="-1.2">7.2</tspan></text>
<text transform="translate(600.45,626.60) scale(1.0000,1)" font-size="6.00" font-weight="normal" fill="#333">FL1-A</text>
<text transform="translate(547.00,579.20) rotate(-90)" font-size="5.9" fill="#333">FL2-A</text>
</svg>
</body></html>
